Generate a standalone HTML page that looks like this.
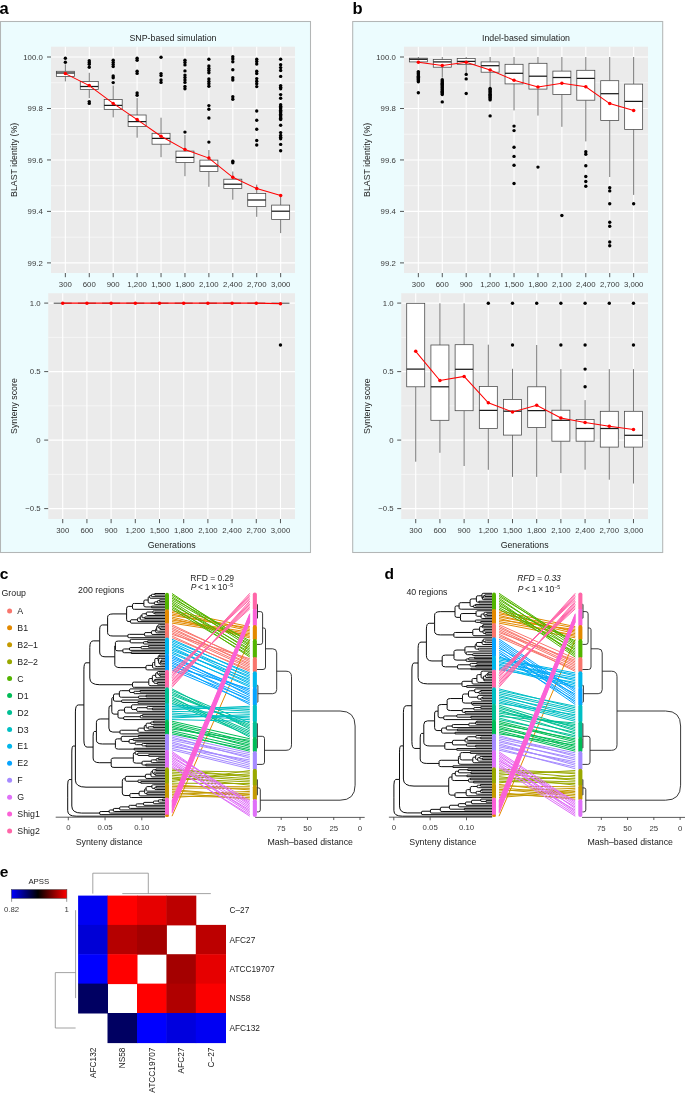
<!DOCTYPE html>
<html><head><meta charset="utf-8"><style>
html,body{margin:0;padding:0;background:#fff;}
body{width:685px;height:1094px;overflow:hidden;}
svg{display:block;will-change:transform;}
text{font-family:"Liberation Sans", sans-serif;}
</style></head><body>
<svg width="685" height="1094" viewBox="0 0 685 1094" font-family="Liberation Sans, sans-serif">
<rect width="685" height="1094" fill="#fff"/>
<rect x="0.5" y="21.5" width="310" height="531" fill="#ecfcfe" stroke="#b3b6b6" stroke-width="1.05"/>
<rect x="51" y="46.7" width="244" height="226.3" fill="#ebebeb"/>
<line x1="51" y1="82.74" x2="295" y2="82.74" stroke="#fff" stroke-width="0.55"/>
<line x1="51" y1="134.21" x2="295" y2="134.21" stroke="#fff" stroke-width="0.55"/>
<line x1="51" y1="185.69" x2="295" y2="185.69" stroke="#fff" stroke-width="0.55"/>
<line x1="51" y1="237.16" x2="295" y2="237.16" stroke="#fff" stroke-width="0.55"/>
<line x1="51" y1="57" x2="295" y2="57" stroke="#fff" stroke-width="1.1"/>
<line x1="51" y1="108.5" x2="295" y2="108.5" stroke="#fff" stroke-width="1.1"/>
<line x1="51" y1="159.95" x2="295" y2="159.95" stroke="#fff" stroke-width="1.1"/>
<line x1="51" y1="211.4" x2="295" y2="211.4" stroke="#fff" stroke-width="1.1"/>
<line x1="51" y1="262.9" x2="295" y2="262.9" stroke="#fff" stroke-width="1.1"/>
<line x1="65.35" y1="46.7" x2="65.35" y2="273" stroke="#fff" stroke-width="1.1"/>
<line x1="89.27" y1="46.7" x2="89.27" y2="273" stroke="#fff" stroke-width="1.1"/>
<line x1="113.2" y1="46.7" x2="113.2" y2="273" stroke="#fff" stroke-width="1.1"/>
<line x1="137.12" y1="46.7" x2="137.12" y2="273" stroke="#fff" stroke-width="1.1"/>
<line x1="161.04" y1="46.7" x2="161.04" y2="273" stroke="#fff" stroke-width="1.1"/>
<line x1="184.96" y1="46.7" x2="184.96" y2="273" stroke="#fff" stroke-width="1.1"/>
<line x1="208.88" y1="46.7" x2="208.88" y2="273" stroke="#fff" stroke-width="1.1"/>
<line x1="232.8" y1="46.7" x2="232.8" y2="273" stroke="#fff" stroke-width="1.1"/>
<line x1="256.73" y1="46.7" x2="256.73" y2="273" stroke="#fff" stroke-width="1.1"/>
<line x1="280.65" y1="46.7" x2="280.65" y2="273" stroke="#fff" stroke-width="1.1"/>
<line x1="65.35" y1="64.3" x2="65.35" y2="71.3" stroke="#555" stroke-width="0.8"/>
<line x1="65.35" y1="76.5" x2="65.35" y2="81.4" stroke="#555" stroke-width="0.8"/>
<rect x="56.35" y="71.3" width="18" height="5.2" fill="#fff" stroke="#444" stroke-width="0.75"/>
<line x1="56.35" y1="73" x2="74.35" y2="73" stroke="#1a1a1a" stroke-width="1.25"/>
<circle cx="65.35" cy="58.2" r="1.7" fill="#000"/>
<circle cx="65.35" cy="62.3" r="1.7" fill="#000"/>
<line x1="89.27" y1="72.8" x2="89.27" y2="81.4" stroke="#555" stroke-width="0.8"/>
<line x1="89.27" y1="89.5" x2="89.27" y2="98.1" stroke="#555" stroke-width="0.8"/>
<rect x="80.27" y="81.4" width="18" height="8.1" fill="#fff" stroke="#444" stroke-width="0.75"/>
<line x1="80.27" y1="86.5" x2="98.27" y2="86.5" stroke="#1a1a1a" stroke-width="1.25"/>
<circle cx="89.27" cy="60.8" r="1.7" fill="#000"/>
<circle cx="89.27" cy="62.5" r="1.7" fill="#000"/>
<circle cx="89.27" cy="64.3" r="1.7" fill="#000"/>
<circle cx="89.27" cy="67.2" r="1.7" fill="#000"/>
<circle cx="89.27" cy="101.6" r="1.7" fill="#000"/>
<circle cx="89.27" cy="103.4" r="1.7" fill="#000"/>
<line x1="113.2" y1="85.6" x2="113.2" y2="99.5" stroke="#555" stroke-width="0.8"/>
<line x1="113.2" y1="109.5" x2="113.2" y2="117.4" stroke="#555" stroke-width="0.8"/>
<rect x="104.2" y="99.5" width="18" height="10" fill="#fff" stroke="#444" stroke-width="0.75"/>
<line x1="104.2" y1="105.4" x2="122.2" y2="105.4" stroke="#1a1a1a" stroke-width="1.25"/>
<circle cx="113.2" cy="60.2" r="1.7" fill="#000"/>
<circle cx="113.2" cy="62.5" r="1.7" fill="#000"/>
<circle cx="113.2" cy="64.6" r="1.7" fill="#000"/>
<circle cx="113.2" cy="66.6" r="1.7" fill="#000"/>
<circle cx="113.2" cy="76" r="1.7" fill="#000"/>
<circle cx="113.2" cy="77.7" r="1.7" fill="#000"/>
<circle cx="113.2" cy="82.6" r="1.7" fill="#000"/>
<line x1="137.12" y1="98.1" x2="137.12" y2="115" stroke="#555" stroke-width="0.8"/>
<line x1="137.12" y1="126.6" x2="137.12" y2="137.7" stroke="#555" stroke-width="0.8"/>
<rect x="128.12" y="115" width="18" height="11.6" fill="#fff" stroke="#444" stroke-width="0.75"/>
<line x1="128.12" y1="121.6" x2="146.12" y2="121.6" stroke="#1a1a1a" stroke-width="1.25"/>
<circle cx="137.12" cy="58.2" r="1.7" fill="#000"/>
<circle cx="137.12" cy="60.2" r="1.7" fill="#000"/>
<circle cx="137.12" cy="71.3" r="1.7" fill="#000"/>
<circle cx="137.12" cy="73.4" r="1.7" fill="#000"/>
<circle cx="137.12" cy="92.9" r="1.7" fill="#000"/>
<circle cx="137.12" cy="95.2" r="1.7" fill="#000"/>
<line x1="161.04" y1="117.7" x2="161.04" y2="133.3" stroke="#555" stroke-width="0.8"/>
<line x1="161.04" y1="144.2" x2="161.04" y2="157.2" stroke="#555" stroke-width="0.8"/>
<rect x="152.04" y="133.3" width="18" height="10.9" fill="#fff" stroke="#444" stroke-width="0.75"/>
<line x1="152.04" y1="138.4" x2="170.04" y2="138.4" stroke="#1a1a1a" stroke-width="1.25"/>
<circle cx="161.04" cy="57.3" r="1.7" fill="#000"/>
<circle cx="161.04" cy="73.6" r="1.7" fill="#000"/>
<circle cx="161.04" cy="75.6" r="1.7" fill="#000"/>
<circle cx="161.04" cy="80" r="1.7" fill="#000"/>
<circle cx="161.04" cy="82.4" r="1.7" fill="#000"/>
<line x1="184.96" y1="135" x2="184.96" y2="151.1" stroke="#555" stroke-width="0.8"/>
<line x1="184.96" y1="162.5" x2="184.96" y2="176.2" stroke="#555" stroke-width="0.8"/>
<rect x="175.96" y="151.1" width="18" height="11.4" fill="#fff" stroke="#444" stroke-width="0.75"/>
<line x1="175.96" y1="157.4" x2="193.96" y2="157.4" stroke="#1a1a1a" stroke-width="1.25"/>
<circle cx="184.96" cy="60.2" r="1.7" fill="#000"/>
<circle cx="184.96" cy="62.5" r="1.7" fill="#000"/>
<circle cx="184.96" cy="64.9" r="1.7" fill="#000"/>
<circle cx="184.96" cy="70.9" r="1.7" fill="#000"/>
<circle cx="184.96" cy="75.1" r="1.7" fill="#000"/>
<circle cx="184.96" cy="77.5" r="1.7" fill="#000"/>
<circle cx="184.96" cy="80" r="1.7" fill="#000"/>
<circle cx="184.96" cy="82.4" r="1.7" fill="#000"/>
<circle cx="184.96" cy="86.5" r="1.7" fill="#000"/>
<circle cx="184.96" cy="88.8" r="1.7" fill="#000"/>
<circle cx="184.96" cy="132.1" r="1.7" fill="#000"/>
<line x1="208.88" y1="150" x2="208.88" y2="160.1" stroke="#555" stroke-width="0.8"/>
<line x1="208.88" y1="171.5" x2="208.88" y2="186.8" stroke="#555" stroke-width="0.8"/>
<rect x="199.88" y="160.1" width="18" height="11.4" fill="#fff" stroke="#444" stroke-width="0.75"/>
<line x1="199.88" y1="166.1" x2="217.88" y2="166.1" stroke="#1a1a1a" stroke-width="1.25"/>
<circle cx="208.88" cy="59.3" r="1.7" fill="#000"/>
<circle cx="208.88" cy="65.9" r="1.7" fill="#000"/>
<circle cx="208.88" cy="68.4" r="1.7" fill="#000"/>
<circle cx="208.88" cy="70.5" r="1.7" fill="#000"/>
<circle cx="208.88" cy="72.7" r="1.7" fill="#000"/>
<circle cx="208.88" cy="79" r="1.7" fill="#000"/>
<circle cx="208.88" cy="81.5" r="1.7" fill="#000"/>
<circle cx="208.88" cy="83.7" r="1.7" fill="#000"/>
<circle cx="208.88" cy="86.3" r="1.7" fill="#000"/>
<circle cx="208.88" cy="105.6" r="1.7" fill="#000"/>
<circle cx="208.88" cy="109.2" r="1.7" fill="#000"/>
<circle cx="208.88" cy="118" r="1.7" fill="#000"/>
<circle cx="208.88" cy="142.1" r="1.7" fill="#000"/>
<line x1="232.8" y1="171.5" x2="232.8" y2="179.2" stroke="#555" stroke-width="0.8"/>
<line x1="232.8" y1="188.6" x2="232.8" y2="199.7" stroke="#555" stroke-width="0.8"/>
<rect x="223.8" y="179.2" width="18" height="9.4" fill="#fff" stroke="#444" stroke-width="0.75"/>
<line x1="223.8" y1="184.2" x2="241.8" y2="184.2" stroke="#1a1a1a" stroke-width="1.25"/>
<circle cx="232.8" cy="56.7" r="1.7" fill="#000"/>
<circle cx="232.8" cy="58.9" r="1.7" fill="#000"/>
<circle cx="232.8" cy="61.8" r="1.7" fill="#000"/>
<circle cx="232.8" cy="69.8" r="1.7" fill="#000"/>
<circle cx="232.8" cy="77.8" r="1.7" fill="#000"/>
<circle cx="232.8" cy="80" r="1.7" fill="#000"/>
<circle cx="232.8" cy="96.8" r="1.7" fill="#000"/>
<circle cx="232.8" cy="99.3" r="1.7" fill="#000"/>
<circle cx="232.8" cy="161.3" r="1.7" fill="#000"/>
<circle cx="232.8" cy="162.7" r="1.7" fill="#000"/>
<line x1="256.73" y1="184.6" x2="256.73" y2="193.4" stroke="#555" stroke-width="0.8"/>
<line x1="256.73" y1="206.5" x2="256.73" y2="216.8" stroke="#555" stroke-width="0.8"/>
<rect x="247.73" y="193.4" width="18" height="13.1" fill="#fff" stroke="#444" stroke-width="0.75"/>
<line x1="247.73" y1="200" x2="265.73" y2="200" stroke="#1a1a1a" stroke-width="1.25"/>
<circle cx="256.73" cy="59.3" r="1.7" fill="#000"/>
<circle cx="256.73" cy="61.5" r="1.7" fill="#000"/>
<circle cx="256.73" cy="64" r="1.7" fill="#000"/>
<circle cx="256.73" cy="71.3" r="1.7" fill="#000"/>
<circle cx="256.73" cy="73.5" r="1.7" fill="#000"/>
<circle cx="256.73" cy="78.6" r="1.7" fill="#000"/>
<circle cx="256.73" cy="81.2" r="1.7" fill="#000"/>
<circle cx="256.73" cy="83.7" r="1.7" fill="#000"/>
<circle cx="256.73" cy="86.6" r="1.7" fill="#000"/>
<circle cx="256.73" cy="111" r="1.7" fill="#000"/>
<circle cx="256.73" cy="120.2" r="1.7" fill="#000"/>
<circle cx="256.73" cy="129.2" r="1.7" fill="#000"/>
<circle cx="256.73" cy="140.5" r="1.7" fill="#000"/>
<circle cx="256.73" cy="145" r="1.7" fill="#000"/>
<line x1="280.65" y1="196.3" x2="280.65" y2="205.1" stroke="#555" stroke-width="0.8"/>
<line x1="280.65" y1="219.4" x2="280.65" y2="233.1" stroke="#555" stroke-width="0.8"/>
<rect x="271.65" y="205.1" width="18" height="14.3" fill="#fff" stroke="#444" stroke-width="0.75"/>
<line x1="271.65" y1="211.2" x2="289.65" y2="211.2" stroke="#1a1a1a" stroke-width="1.25"/>
<circle cx="280.65" cy="59.3" r="1.7" fill="#000"/>
<circle cx="280.65" cy="64.7" r="1.7" fill="#000"/>
<circle cx="280.65" cy="67.6" r="1.7" fill="#000"/>
<circle cx="280.65" cy="70.5" r="1.7" fill="#000"/>
<circle cx="280.65" cy="76.4" r="1.7" fill="#000"/>
<circle cx="280.65" cy="85.6" r="1.7" fill="#000"/>
<circle cx="280.65" cy="87.2" r="1.7" fill="#000"/>
<circle cx="280.65" cy="88.8" r="1.7" fill="#000"/>
<circle cx="280.65" cy="94.6" r="1.7" fill="#000"/>
<circle cx="280.65" cy="98.3" r="1.7" fill="#000"/>
<circle cx="280.65" cy="104.8" r="1.7" fill="#000"/>
<circle cx="280.65" cy="106.15" r="1.7" fill="#000"/>
<circle cx="280.65" cy="107.49" r="1.7" fill="#000"/>
<circle cx="280.65" cy="108.84" r="1.7" fill="#000"/>
<circle cx="280.65" cy="110.18" r="1.7" fill="#000"/>
<circle cx="280.65" cy="111.53" r="1.7" fill="#000"/>
<circle cx="280.65" cy="112.87" r="1.7" fill="#000"/>
<circle cx="280.65" cy="114.22" r="1.7" fill="#000"/>
<circle cx="280.65" cy="115.56" r="1.7" fill="#000"/>
<circle cx="280.65" cy="116.91" r="1.7" fill="#000"/>
<circle cx="280.65" cy="118.25" r="1.7" fill="#000"/>
<circle cx="280.65" cy="119.6" r="1.7" fill="#000"/>
<circle cx="280.65" cy="125.3" r="1.7" fill="#000"/>
<circle cx="280.65" cy="132.6" r="1.7" fill="#000"/>
<circle cx="280.65" cy="135.5" r="1.7" fill="#000"/>
<circle cx="280.65" cy="137.2" r="1.7" fill="#000"/>
<circle cx="280.65" cy="138.8" r="1.7" fill="#000"/>
<circle cx="280.65" cy="144.4" r="1.7" fill="#000"/>
<circle cx="280.65" cy="150.8" r="1.7" fill="#000"/>
<polyline points="65.35,73.6 89.27,85.6 113.2,103.4 137.12,119.6 161.04,136.2 184.96,149.6 208.88,158.1 232.8,177.3 256.73,188.6 280.65,195.6" fill="none" stroke="#ff0000" stroke-width="1.05"/>
<circle cx="65.35" cy="73.6" r="1.75" fill="#ff0000"/>
<circle cx="89.27" cy="85.6" r="1.75" fill="#ff0000"/>
<circle cx="113.2" cy="103.4" r="1.75" fill="#ff0000"/>
<circle cx="137.12" cy="119.6" r="1.75" fill="#ff0000"/>
<circle cx="161.04" cy="136.2" r="1.75" fill="#ff0000"/>
<circle cx="184.96" cy="149.6" r="1.75" fill="#ff0000"/>
<circle cx="208.88" cy="158.1" r="1.75" fill="#ff0000"/>
<circle cx="232.8" cy="177.3" r="1.75" fill="#ff0000"/>
<circle cx="256.73" cy="188.6" r="1.75" fill="#ff0000"/>
<circle cx="280.65" cy="195.6" r="1.75" fill="#ff0000"/>
<line x1="47" y1="57" x2="51" y2="57" stroke="#444444" stroke-width="0.9"/>
<text x="42.8" y="59.8" font-size="7.8" text-anchor="end" fill="#3a3a3a">100.0</text>
<line x1="47" y1="108.5" x2="51" y2="108.5" stroke="#444444" stroke-width="0.9"/>
<text x="42.8" y="111.3" font-size="7.8" text-anchor="end" fill="#3a3a3a">99.8</text>
<line x1="47" y1="159.95" x2="51" y2="159.95" stroke="#444444" stroke-width="0.9"/>
<text x="42.8" y="162.75" font-size="7.8" text-anchor="end" fill="#3a3a3a">99.6</text>
<line x1="47" y1="211.4" x2="51" y2="211.4" stroke="#444444" stroke-width="0.9"/>
<text x="42.8" y="214.2" font-size="7.8" text-anchor="end" fill="#3a3a3a">99.4</text>
<line x1="47" y1="262.9" x2="51" y2="262.9" stroke="#444444" stroke-width="0.9"/>
<text x="42.8" y="265.7" font-size="7.8" text-anchor="end" fill="#3a3a3a">99.2</text>
<line x1="65.35" y1="273" x2="65.35" y2="277.2" stroke="#444444" stroke-width="0.9"/>
<text x="65.35" y="287" font-size="7.8" text-anchor="middle" fill="#3a3a3a">300</text>
<line x1="89.27" y1="273" x2="89.27" y2="277.2" stroke="#444444" stroke-width="0.9"/>
<text x="89.27" y="287" font-size="7.8" text-anchor="middle" fill="#3a3a3a">600</text>
<line x1="113.2" y1="273" x2="113.2" y2="277.2" stroke="#444444" stroke-width="0.9"/>
<text x="113.2" y="287" font-size="7.8" text-anchor="middle" fill="#3a3a3a">900</text>
<line x1="137.12" y1="273" x2="137.12" y2="277.2" stroke="#444444" stroke-width="0.9"/>
<text x="137.12" y="287" font-size="7.8" text-anchor="middle" fill="#3a3a3a">1,200</text>
<line x1="161.04" y1="273" x2="161.04" y2="277.2" stroke="#444444" stroke-width="0.9"/>
<text x="161.04" y="287" font-size="7.8" text-anchor="middle" fill="#3a3a3a">1,500</text>
<line x1="184.96" y1="273" x2="184.96" y2="277.2" stroke="#444444" stroke-width="0.9"/>
<text x="184.96" y="287" font-size="7.8" text-anchor="middle" fill="#3a3a3a">1,800</text>
<line x1="208.88" y1="273" x2="208.88" y2="277.2" stroke="#444444" stroke-width="0.9"/>
<text x="208.88" y="287" font-size="7.8" text-anchor="middle" fill="#3a3a3a">2,100</text>
<line x1="232.8" y1="273" x2="232.8" y2="277.2" stroke="#444444" stroke-width="0.9"/>
<text x="232.8" y="287" font-size="7.8" text-anchor="middle" fill="#3a3a3a">2,400</text>
<line x1="256.73" y1="273" x2="256.73" y2="277.2" stroke="#444444" stroke-width="0.9"/>
<text x="256.73" y="287" font-size="7.8" text-anchor="middle" fill="#3a3a3a">2,700</text>
<line x1="280.65" y1="273" x2="280.65" y2="277.2" stroke="#444444" stroke-width="0.9"/>
<text x="280.65" y="287" font-size="7.8" text-anchor="middle" fill="#3a3a3a">3,000</text>
<text x="173" y="41.1" font-size="8.8" text-anchor="middle" fill="#222222">SNP-based simulation</text>
<text x="17.3" y="159.85" font-size="8.8" text-anchor="middle" fill="#222222" transform="rotate(-90 17.3 159.85)">BLAST identity (%)</text>
<rect x="48.2" y="293.2" width="246.8" height="225.8" fill="#ebebeb"/>
<line x1="48.2" y1="337.35" x2="295" y2="337.35" stroke="#fff" stroke-width="0.55"/>
<line x1="48.2" y1="405.85" x2="295" y2="405.85" stroke="#fff" stroke-width="0.55"/>
<line x1="48.2" y1="474.35" x2="295" y2="474.35" stroke="#fff" stroke-width="0.55"/>
<line x1="48.2" y1="303.1" x2="295" y2="303.1" stroke="#fff" stroke-width="1.1"/>
<line x1="48.2" y1="371.6" x2="295" y2="371.6" stroke="#fff" stroke-width="1.1"/>
<line x1="48.2" y1="440.1" x2="295" y2="440.1" stroke="#fff" stroke-width="1.1"/>
<line x1="48.2" y1="508.6" x2="295" y2="508.6" stroke="#fff" stroke-width="1.1"/>
<line x1="62.72" y1="293.2" x2="62.72" y2="519" stroke="#fff" stroke-width="1.1"/>
<line x1="86.91" y1="293.2" x2="86.91" y2="519" stroke="#fff" stroke-width="1.1"/>
<line x1="111.11" y1="293.2" x2="111.11" y2="519" stroke="#fff" stroke-width="1.1"/>
<line x1="135.31" y1="293.2" x2="135.31" y2="519" stroke="#fff" stroke-width="1.1"/>
<line x1="159.5" y1="293.2" x2="159.5" y2="519" stroke="#fff" stroke-width="1.1"/>
<line x1="183.7" y1="293.2" x2="183.7" y2="519" stroke="#fff" stroke-width="1.1"/>
<line x1="207.89" y1="293.2" x2="207.89" y2="519" stroke="#fff" stroke-width="1.1"/>
<line x1="232.09" y1="293.2" x2="232.09" y2="519" stroke="#fff" stroke-width="1.1"/>
<line x1="256.29" y1="293.2" x2="256.29" y2="519" stroke="#fff" stroke-width="1.1"/>
<line x1="280.48" y1="293.2" x2="280.48" y2="519" stroke="#fff" stroke-width="1.1"/>
<line x1="53.72" y1="303.2" x2="71.72" y2="303.2" stroke="#1a1a1a" stroke-width="0.8"/>
<line x1="77.91" y1="303.2" x2="95.91" y2="303.2" stroke="#1a1a1a" stroke-width="0.8"/>
<line x1="102.11" y1="303.2" x2="120.11" y2="303.2" stroke="#1a1a1a" stroke-width="0.8"/>
<line x1="126.31" y1="303.2" x2="144.31" y2="303.2" stroke="#1a1a1a" stroke-width="0.8"/>
<line x1="150.5" y1="303.2" x2="168.5" y2="303.2" stroke="#1a1a1a" stroke-width="0.8"/>
<line x1="174.7" y1="303.2" x2="192.7" y2="303.2" stroke="#1a1a1a" stroke-width="0.8"/>
<line x1="198.89" y1="303.2" x2="216.89" y2="303.2" stroke="#1a1a1a" stroke-width="0.8"/>
<line x1="223.09" y1="303.2" x2="241.09" y2="303.2" stroke="#1a1a1a" stroke-width="0.8"/>
<line x1="247.29" y1="303.2" x2="265.29" y2="303.2" stroke="#1a1a1a" stroke-width="0.8"/>
<line x1="271.48" y1="303.2" x2="289.48" y2="303.2" stroke="#1a1a1a" stroke-width="0.8"/>
<circle cx="280.48" cy="345" r="1.7" fill="#000"/>
<polyline points="62.72,303.2 86.91,303.2 111.11,303.2 135.31,303.2 159.5,303.2 183.7,303.2 207.89,303.2 232.09,303.2 256.29,303.2 280.48,303.7" fill="none" stroke="#ff0000" stroke-width="1.3"/>
<circle cx="62.72" cy="303.2" r="1.75" fill="#ff0000"/>
<circle cx="86.91" cy="303.2" r="1.75" fill="#ff0000"/>
<circle cx="111.11" cy="303.2" r="1.75" fill="#ff0000"/>
<circle cx="135.31" cy="303.2" r="1.75" fill="#ff0000"/>
<circle cx="159.5" cy="303.2" r="1.75" fill="#ff0000"/>
<circle cx="183.7" cy="303.2" r="1.75" fill="#ff0000"/>
<circle cx="207.89" cy="303.2" r="1.75" fill="#ff0000"/>
<circle cx="232.09" cy="303.2" r="1.75" fill="#ff0000"/>
<circle cx="256.29" cy="303.2" r="1.75" fill="#ff0000"/>
<circle cx="280.48" cy="303.7" r="1.75" fill="#ff0000"/>
<line x1="44.2" y1="303.1" x2="48.2" y2="303.1" stroke="#444444" stroke-width="0.9"/>
<text x="40.7" y="305.9" font-size="7.8" text-anchor="end" fill="#3a3a3a">1.0</text>
<line x1="44.2" y1="371.6" x2="48.2" y2="371.6" stroke="#444444" stroke-width="0.9"/>
<text x="40.7" y="374.4" font-size="7.8" text-anchor="end" fill="#3a3a3a">0.5</text>
<line x1="44.2" y1="440.1" x2="48.2" y2="440.1" stroke="#444444" stroke-width="0.9"/>
<text x="40.7" y="442.9" font-size="7.8" text-anchor="end" fill="#3a3a3a">0</text>
<line x1="44.2" y1="508.6" x2="48.2" y2="508.6" stroke="#444444" stroke-width="0.9"/>
<text x="40.7" y="511.4" font-size="7.8" text-anchor="end" fill="#3a3a3a">−0.5</text>
<line x1="62.72" y1="519" x2="62.72" y2="523.2" stroke="#444444" stroke-width="0.9"/>
<text x="62.72" y="533" font-size="7.8" text-anchor="middle" fill="#3a3a3a">300</text>
<line x1="86.91" y1="519" x2="86.91" y2="523.2" stroke="#444444" stroke-width="0.9"/>
<text x="86.91" y="533" font-size="7.8" text-anchor="middle" fill="#3a3a3a">600</text>
<line x1="111.11" y1="519" x2="111.11" y2="523.2" stroke="#444444" stroke-width="0.9"/>
<text x="111.11" y="533" font-size="7.8" text-anchor="middle" fill="#3a3a3a">900</text>
<line x1="135.31" y1="519" x2="135.31" y2="523.2" stroke="#444444" stroke-width="0.9"/>
<text x="135.31" y="533" font-size="7.8" text-anchor="middle" fill="#3a3a3a">1,200</text>
<line x1="159.5" y1="519" x2="159.5" y2="523.2" stroke="#444444" stroke-width="0.9"/>
<text x="159.5" y="533" font-size="7.8" text-anchor="middle" fill="#3a3a3a">1,500</text>
<line x1="183.7" y1="519" x2="183.7" y2="523.2" stroke="#444444" stroke-width="0.9"/>
<text x="183.7" y="533" font-size="7.8" text-anchor="middle" fill="#3a3a3a">1,800</text>
<line x1="207.89" y1="519" x2="207.89" y2="523.2" stroke="#444444" stroke-width="0.9"/>
<text x="207.89" y="533" font-size="7.8" text-anchor="middle" fill="#3a3a3a">2,100</text>
<line x1="232.09" y1="519" x2="232.09" y2="523.2" stroke="#444444" stroke-width="0.9"/>
<text x="232.09" y="533" font-size="7.8" text-anchor="middle" fill="#3a3a3a">2,400</text>
<line x1="256.29" y1="519" x2="256.29" y2="523.2" stroke="#444444" stroke-width="0.9"/>
<text x="256.29" y="533" font-size="7.8" text-anchor="middle" fill="#3a3a3a">2,700</text>
<line x1="280.48" y1="519" x2="280.48" y2="523.2" stroke="#444444" stroke-width="0.9"/>
<text x="280.48" y="533" font-size="7.8" text-anchor="middle" fill="#3a3a3a">3,000</text>
<text x="171.6" y="547.9" font-size="8.8" text-anchor="middle" fill="#222222">Generations</text>
<text x="17.3" y="406.1" font-size="8.8" text-anchor="middle" fill="#222222" transform="rotate(-90 17.3 406.1)">Synteny score</text>
<rect x="352.7" y="21.5" width="310" height="531" fill="#ecfcfe" stroke="#b3b6b6" stroke-width="1.05"/>
<rect x="404" y="46.7" width="244" height="226.3" fill="#ebebeb"/>
<line x1="404" y1="82.74" x2="648" y2="82.74" stroke="#fff" stroke-width="0.55"/>
<line x1="404" y1="134.21" x2="648" y2="134.21" stroke="#fff" stroke-width="0.55"/>
<line x1="404" y1="185.69" x2="648" y2="185.69" stroke="#fff" stroke-width="0.55"/>
<line x1="404" y1="237.16" x2="648" y2="237.16" stroke="#fff" stroke-width="0.55"/>
<line x1="404" y1="57" x2="648" y2="57" stroke="#fff" stroke-width="1.1"/>
<line x1="404" y1="108.5" x2="648" y2="108.5" stroke="#fff" stroke-width="1.1"/>
<line x1="404" y1="159.95" x2="648" y2="159.95" stroke="#fff" stroke-width="1.1"/>
<line x1="404" y1="211.4" x2="648" y2="211.4" stroke="#fff" stroke-width="1.1"/>
<line x1="404" y1="262.9" x2="648" y2="262.9" stroke="#fff" stroke-width="1.1"/>
<line x1="418.35" y1="46.7" x2="418.35" y2="273" stroke="#fff" stroke-width="1.1"/>
<line x1="442.27" y1="46.7" x2="442.27" y2="273" stroke="#fff" stroke-width="1.1"/>
<line x1="466.2" y1="46.7" x2="466.2" y2="273" stroke="#fff" stroke-width="1.1"/>
<line x1="490.12" y1="46.7" x2="490.12" y2="273" stroke="#fff" stroke-width="1.1"/>
<line x1="514.04" y1="46.7" x2="514.04" y2="273" stroke="#fff" stroke-width="1.1"/>
<line x1="537.96" y1="46.7" x2="537.96" y2="273" stroke="#fff" stroke-width="1.1"/>
<line x1="561.88" y1="46.7" x2="561.88" y2="273" stroke="#fff" stroke-width="1.1"/>
<line x1="585.8" y1="46.7" x2="585.8" y2="273" stroke="#fff" stroke-width="1.1"/>
<line x1="609.73" y1="46.7" x2="609.73" y2="273" stroke="#fff" stroke-width="1.1"/>
<line x1="633.65" y1="46.7" x2="633.65" y2="273" stroke="#fff" stroke-width="1.1"/>
<line x1="418.35" y1="57" x2="418.35" y2="58.2" stroke="#555" stroke-width="0.8"/>
<line x1="418.35" y1="61.9" x2="418.35" y2="62" stroke="#555" stroke-width="0.8"/>
<rect x="409.35" y="58.2" width="18" height="3.7" fill="#fff" stroke="#444" stroke-width="0.75"/>
<line x1="409.35" y1="59.3" x2="427.35" y2="59.3" stroke="#1a1a1a" stroke-width="1.25"/>
<circle cx="418.35" cy="71.6" r="1.7" fill="#000"/>
<circle cx="418.35" cy="72.73" r="1.7" fill="#000"/>
<circle cx="418.35" cy="73.87" r="1.7" fill="#000"/>
<circle cx="418.35" cy="75" r="1.7" fill="#000"/>
<circle cx="418.35" cy="76.13" r="1.7" fill="#000"/>
<circle cx="418.35" cy="77.27" r="1.7" fill="#000"/>
<circle cx="418.35" cy="78.4" r="1.7" fill="#000"/>
<circle cx="418.35" cy="79.53" r="1.7" fill="#000"/>
<circle cx="418.35" cy="80.67" r="1.7" fill="#000"/>
<circle cx="418.35" cy="81.8" r="1.7" fill="#000"/>
<circle cx="418.35" cy="92.7" r="1.7" fill="#000"/>
<line x1="442.27" y1="57" x2="442.27" y2="59.4" stroke="#555" stroke-width="0.8"/>
<line x1="442.27" y1="67.2" x2="442.27" y2="77.7" stroke="#555" stroke-width="0.8"/>
<rect x="433.27" y="59.4" width="18" height="7.8" fill="#fff" stroke="#444" stroke-width="0.75"/>
<line x1="433.27" y1="61.9" x2="451.27" y2="61.9" stroke="#1a1a1a" stroke-width="1.25"/>
<circle cx="442.27" cy="79.8" r="1.7" fill="#000"/>
<circle cx="442.27" cy="80.94" r="1.7" fill="#000"/>
<circle cx="442.27" cy="82.08" r="1.7" fill="#000"/>
<circle cx="442.27" cy="83.22" r="1.7" fill="#000"/>
<circle cx="442.27" cy="84.35" r="1.7" fill="#000"/>
<circle cx="442.27" cy="85.49" r="1.7" fill="#000"/>
<circle cx="442.27" cy="86.63" r="1.7" fill="#000"/>
<circle cx="442.27" cy="87.77" r="1.7" fill="#000"/>
<circle cx="442.27" cy="88.91" r="1.7" fill="#000"/>
<circle cx="442.27" cy="90.05" r="1.7" fill="#000"/>
<circle cx="442.27" cy="91.18" r="1.7" fill="#000"/>
<circle cx="442.27" cy="92.32" r="1.7" fill="#000"/>
<circle cx="442.27" cy="93.46" r="1.7" fill="#000"/>
<circle cx="442.27" cy="94.6" r="1.7" fill="#000"/>
<circle cx="442.27" cy="101.9" r="1.7" fill="#000"/>
<line x1="466.2" y1="57" x2="466.2" y2="58.4" stroke="#555" stroke-width="0.8"/>
<line x1="466.2" y1="64.3" x2="466.2" y2="73" stroke="#555" stroke-width="0.8"/>
<rect x="457.2" y="58.4" width="18" height="5.9" fill="#fff" stroke="#444" stroke-width="0.75"/>
<line x1="457.2" y1="61.4" x2="475.2" y2="61.4" stroke="#1a1a1a" stroke-width="1.25"/>
<circle cx="466.2" cy="74.4" r="1.7" fill="#000"/>
<circle cx="466.2" cy="78.9" r="1.7" fill="#000"/>
<circle cx="466.2" cy="93.5" r="1.7" fill="#000"/>
<line x1="490.12" y1="57" x2="490.12" y2="61.9" stroke="#555" stroke-width="0.8"/>
<line x1="490.12" y1="72.2" x2="490.12" y2="87.6" stroke="#555" stroke-width="0.8"/>
<rect x="481.12" y="61.9" width="18" height="10.3" fill="#fff" stroke="#444" stroke-width="0.75"/>
<line x1="481.12" y1="65.7" x2="499.12" y2="65.7" stroke="#1a1a1a" stroke-width="1.25"/>
<circle cx="490.12" cy="88.4" r="1.7" fill="#000"/>
<circle cx="490.12" cy="89.55" r="1.7" fill="#000"/>
<circle cx="490.12" cy="90.7" r="1.7" fill="#000"/>
<circle cx="490.12" cy="91.85" r="1.7" fill="#000"/>
<circle cx="490.12" cy="93" r="1.7" fill="#000"/>
<circle cx="490.12" cy="94.15" r="1.7" fill="#000"/>
<circle cx="490.12" cy="95.3" r="1.7" fill="#000"/>
<circle cx="490.12" cy="96.45" r="1.7" fill="#000"/>
<circle cx="490.12" cy="97.6" r="1.7" fill="#000"/>
<circle cx="490.12" cy="98.75" r="1.7" fill="#000"/>
<circle cx="490.12" cy="99.9" r="1.7" fill="#000"/>
<circle cx="490.12" cy="115.9" r="1.7" fill="#000"/>
<line x1="514.04" y1="57" x2="514.04" y2="64.3" stroke="#555" stroke-width="0.8"/>
<line x1="514.04" y1="83.9" x2="514.04" y2="110.4" stroke="#555" stroke-width="0.8"/>
<rect x="505.04" y="64.3" width="18" height="19.6" fill="#fff" stroke="#444" stroke-width="0.75"/>
<line x1="505.04" y1="73.3" x2="523.04" y2="73.3" stroke="#1a1a1a" stroke-width="1.25"/>
<circle cx="514.04" cy="126.1" r="1.7" fill="#000"/>
<circle cx="514.04" cy="130.6" r="1.7" fill="#000"/>
<circle cx="514.04" cy="147.2" r="1.7" fill="#000"/>
<circle cx="514.04" cy="156.4" r="1.7" fill="#000"/>
<circle cx="514.04" cy="165.3" r="1.7" fill="#000"/>
<circle cx="514.04" cy="183.5" r="1.7" fill="#000"/>
<line x1="537.96" y1="57" x2="537.96" y2="63.3" stroke="#555" stroke-width="0.8"/>
<line x1="537.96" y1="89.1" x2="537.96" y2="115.6" stroke="#555" stroke-width="0.8"/>
<rect x="528.96" y="63.3" width="18" height="25.8" fill="#fff" stroke="#444" stroke-width="0.75"/>
<line x1="528.96" y1="76.2" x2="546.96" y2="76.2" stroke="#1a1a1a" stroke-width="1.25"/>
<circle cx="537.96" cy="167.1" r="1.7" fill="#000"/>
<line x1="561.88" y1="57" x2="561.88" y2="71.1" stroke="#555" stroke-width="0.8"/>
<line x1="561.88" y1="94.4" x2="561.88" y2="126.8" stroke="#555" stroke-width="0.8"/>
<rect x="552.88" y="71.1" width="18" height="23.3" fill="#fff" stroke="#444" stroke-width="0.75"/>
<line x1="552.88" y1="77.5" x2="570.88" y2="77.5" stroke="#1a1a1a" stroke-width="1.25"/>
<circle cx="561.88" cy="215.5" r="1.7" fill="#000"/>
<line x1="585.8" y1="57" x2="585.8" y2="70.3" stroke="#555" stroke-width="0.8"/>
<line x1="585.8" y1="100.2" x2="585.8" y2="141.4" stroke="#555" stroke-width="0.8"/>
<rect x="576.8" y="70.3" width="18" height="29.9" fill="#fff" stroke="#444" stroke-width="0.75"/>
<line x1="576.8" y1="78.4" x2="594.8" y2="78.4" stroke="#1a1a1a" stroke-width="1.25"/>
<circle cx="585.8" cy="151.7" r="1.7" fill="#000"/>
<circle cx="585.8" cy="154.2" r="1.7" fill="#000"/>
<circle cx="585.8" cy="165.8" r="1.7" fill="#000"/>
<circle cx="585.8" cy="176.5" r="1.7" fill="#000"/>
<circle cx="585.8" cy="181.5" r="1.7" fill="#000"/>
<circle cx="585.8" cy="186.2" r="1.7" fill="#000"/>
<line x1="609.73" y1="57" x2="609.73" y2="80.7" stroke="#555" stroke-width="0.8"/>
<line x1="609.73" y1="120.4" x2="609.73" y2="177" stroke="#555" stroke-width="0.8"/>
<rect x="600.73" y="80.7" width="18" height="39.7" fill="#fff" stroke="#444" stroke-width="0.75"/>
<line x1="600.73" y1="93.7" x2="618.73" y2="93.7" stroke="#1a1a1a" stroke-width="1.25"/>
<circle cx="609.73" cy="187.7" r="1.7" fill="#000"/>
<circle cx="609.73" cy="190.9" r="1.7" fill="#000"/>
<circle cx="609.73" cy="203.8" r="1.7" fill="#000"/>
<circle cx="609.73" cy="222.2" r="1.7" fill="#000"/>
<circle cx="609.73" cy="226.2" r="1.7" fill="#000"/>
<circle cx="609.73" cy="242" r="1.7" fill="#000"/>
<circle cx="609.73" cy="245.8" r="1.7" fill="#000"/>
<line x1="633.65" y1="57" x2="633.65" y2="84.1" stroke="#555" stroke-width="0.8"/>
<line x1="633.65" y1="129.4" x2="633.65" y2="194.9" stroke="#555" stroke-width="0.8"/>
<rect x="624.65" y="84.1" width="18" height="45.3" fill="#fff" stroke="#444" stroke-width="0.75"/>
<line x1="624.65" y1="101.4" x2="642.65" y2="101.4" stroke="#1a1a1a" stroke-width="1.25"/>
<circle cx="633.65" cy="203.8" r="1.7" fill="#000"/>
<polyline points="418.35,62.3 442.27,65.4 466.2,62.2 490.12,69.9 514.04,80.3 537.96,87 561.88,83.3 585.8,86.8 609.73,103.6 633.65,110.5" fill="none" stroke="#ff0000" stroke-width="1.05"/>
<circle cx="418.35" cy="62.3" r="1.75" fill="#ff0000"/>
<circle cx="442.27" cy="65.4" r="1.75" fill="#ff0000"/>
<circle cx="466.2" cy="62.2" r="1.75" fill="#ff0000"/>
<circle cx="490.12" cy="69.9" r="1.75" fill="#ff0000"/>
<circle cx="514.04" cy="80.3" r="1.75" fill="#ff0000"/>
<circle cx="537.96" cy="87" r="1.75" fill="#ff0000"/>
<circle cx="561.88" cy="83.3" r="1.75" fill="#ff0000"/>
<circle cx="585.8" cy="86.8" r="1.75" fill="#ff0000"/>
<circle cx="609.73" cy="103.6" r="1.75" fill="#ff0000"/>
<circle cx="633.65" cy="110.5" r="1.75" fill="#ff0000"/>
<line x1="400" y1="57" x2="404" y2="57" stroke="#444444" stroke-width="0.9"/>
<text x="395.8" y="59.8" font-size="7.8" text-anchor="end" fill="#3a3a3a">100.0</text>
<line x1="400" y1="108.5" x2="404" y2="108.5" stroke="#444444" stroke-width="0.9"/>
<text x="395.8" y="111.3" font-size="7.8" text-anchor="end" fill="#3a3a3a">99.8</text>
<line x1="400" y1="159.95" x2="404" y2="159.95" stroke="#444444" stroke-width="0.9"/>
<text x="395.8" y="162.75" font-size="7.8" text-anchor="end" fill="#3a3a3a">99.6</text>
<line x1="400" y1="211.4" x2="404" y2="211.4" stroke="#444444" stroke-width="0.9"/>
<text x="395.8" y="214.2" font-size="7.8" text-anchor="end" fill="#3a3a3a">99.4</text>
<line x1="400" y1="262.9" x2="404" y2="262.9" stroke="#444444" stroke-width="0.9"/>
<text x="395.8" y="265.7" font-size="7.8" text-anchor="end" fill="#3a3a3a">99.2</text>
<line x1="418.35" y1="273" x2="418.35" y2="277.2" stroke="#444444" stroke-width="0.9"/>
<text x="418.35" y="287" font-size="7.8" text-anchor="middle" fill="#3a3a3a">300</text>
<line x1="442.27" y1="273" x2="442.27" y2="277.2" stroke="#444444" stroke-width="0.9"/>
<text x="442.27" y="287" font-size="7.8" text-anchor="middle" fill="#3a3a3a">600</text>
<line x1="466.2" y1="273" x2="466.2" y2="277.2" stroke="#444444" stroke-width="0.9"/>
<text x="466.2" y="287" font-size="7.8" text-anchor="middle" fill="#3a3a3a">900</text>
<line x1="490.12" y1="273" x2="490.12" y2="277.2" stroke="#444444" stroke-width="0.9"/>
<text x="490.12" y="287" font-size="7.8" text-anchor="middle" fill="#3a3a3a">1,200</text>
<line x1="514.04" y1="273" x2="514.04" y2="277.2" stroke="#444444" stroke-width="0.9"/>
<text x="514.04" y="287" font-size="7.8" text-anchor="middle" fill="#3a3a3a">1,500</text>
<line x1="537.96" y1="273" x2="537.96" y2="277.2" stroke="#444444" stroke-width="0.9"/>
<text x="537.96" y="287" font-size="7.8" text-anchor="middle" fill="#3a3a3a">1,800</text>
<line x1="561.88" y1="273" x2="561.88" y2="277.2" stroke="#444444" stroke-width="0.9"/>
<text x="561.88" y="287" font-size="7.8" text-anchor="middle" fill="#3a3a3a">2,100</text>
<line x1="585.8" y1="273" x2="585.8" y2="277.2" stroke="#444444" stroke-width="0.9"/>
<text x="585.8" y="287" font-size="7.8" text-anchor="middle" fill="#3a3a3a">2,400</text>
<line x1="609.73" y1="273" x2="609.73" y2="277.2" stroke="#444444" stroke-width="0.9"/>
<text x="609.73" y="287" font-size="7.8" text-anchor="middle" fill="#3a3a3a">2,700</text>
<line x1="633.65" y1="273" x2="633.65" y2="277.2" stroke="#444444" stroke-width="0.9"/>
<text x="633.65" y="287" font-size="7.8" text-anchor="middle" fill="#3a3a3a">3,000</text>
<text x="526" y="41.1" font-size="8.8" text-anchor="middle" fill="#222222">Indel-based simulation</text>
<text x="370.3" y="159.85" font-size="8.8" text-anchor="middle" fill="#222222" transform="rotate(-90 370.3 159.85)">BLAST identity (%)</text>
<rect x="401.2" y="293.2" width="246.8" height="225.8" fill="#ebebeb"/>
<line x1="401.2" y1="337.35" x2="648" y2="337.35" stroke="#fff" stroke-width="0.55"/>
<line x1="401.2" y1="405.85" x2="648" y2="405.85" stroke="#fff" stroke-width="0.55"/>
<line x1="401.2" y1="474.35" x2="648" y2="474.35" stroke="#fff" stroke-width="0.55"/>
<line x1="401.2" y1="303.1" x2="648" y2="303.1" stroke="#fff" stroke-width="1.1"/>
<line x1="401.2" y1="371.6" x2="648" y2="371.6" stroke="#fff" stroke-width="1.1"/>
<line x1="401.2" y1="440.1" x2="648" y2="440.1" stroke="#fff" stroke-width="1.1"/>
<line x1="401.2" y1="508.6" x2="648" y2="508.6" stroke="#fff" stroke-width="1.1"/>
<line x1="415.72" y1="293.2" x2="415.72" y2="519" stroke="#fff" stroke-width="1.1"/>
<line x1="439.91" y1="293.2" x2="439.91" y2="519" stroke="#fff" stroke-width="1.1"/>
<line x1="464.11" y1="293.2" x2="464.11" y2="519" stroke="#fff" stroke-width="1.1"/>
<line x1="488.31" y1="293.2" x2="488.31" y2="519" stroke="#fff" stroke-width="1.1"/>
<line x1="512.5" y1="293.2" x2="512.5" y2="519" stroke="#fff" stroke-width="1.1"/>
<line x1="536.7" y1="293.2" x2="536.7" y2="519" stroke="#fff" stroke-width="1.1"/>
<line x1="560.89" y1="293.2" x2="560.89" y2="519" stroke="#fff" stroke-width="1.1"/>
<line x1="585.09" y1="293.2" x2="585.09" y2="519" stroke="#fff" stroke-width="1.1"/>
<line x1="609.29" y1="293.2" x2="609.29" y2="519" stroke="#fff" stroke-width="1.1"/>
<line x1="633.48" y1="293.2" x2="633.48" y2="519" stroke="#fff" stroke-width="1.1"/>
<line x1="415.72" y1="386.8" x2="415.72" y2="461.7" stroke="#555" stroke-width="0.8"/>
<rect x="406.72" y="303.3" width="18" height="83.5" fill="#fff" stroke="#444" stroke-width="0.75"/>
<line x1="406.72" y1="369.1" x2="424.72" y2="369.1" stroke="#1a1a1a" stroke-width="1.25"/>
<line x1="439.91" y1="303.3" x2="439.91" y2="345" stroke="#555" stroke-width="0.8"/>
<line x1="439.91" y1="420.3" x2="439.91" y2="452.8" stroke="#555" stroke-width="0.8"/>
<rect x="430.91" y="345" width="18" height="75.3" fill="#fff" stroke="#444" stroke-width="0.75"/>
<line x1="430.91" y1="386.8" x2="448.91" y2="386.8" stroke="#1a1a1a" stroke-width="1.25"/>
<line x1="464.11" y1="303.3" x2="464.11" y2="344.7" stroke="#555" stroke-width="0.8"/>
<line x1="464.11" y1="410.7" x2="464.11" y2="466" stroke="#555" stroke-width="0.8"/>
<rect x="455.11" y="344.7" width="18" height="66" fill="#fff" stroke="#444" stroke-width="0.75"/>
<line x1="455.11" y1="369.3" x2="473.11" y2="369.3" stroke="#1a1a1a" stroke-width="1.25"/>
<line x1="488.31" y1="344.7" x2="488.31" y2="386.4" stroke="#555" stroke-width="0.8"/>
<line x1="488.31" y1="428.5" x2="488.31" y2="469.8" stroke="#555" stroke-width="0.8"/>
<rect x="479.31" y="386.4" width="18" height="42.1" fill="#fff" stroke="#444" stroke-width="0.75"/>
<line x1="479.31" y1="410.4" x2="497.31" y2="410.4" stroke="#1a1a1a" stroke-width="1.25"/>
<circle cx="488.31" cy="303.3" r="1.7" fill="#000"/>
<line x1="512.5" y1="368.8" x2="512.5" y2="399.5" stroke="#555" stroke-width="0.8"/>
<line x1="512.5" y1="435.1" x2="512.5" y2="476.9" stroke="#555" stroke-width="0.8"/>
<rect x="503.5" y="399.5" width="18" height="35.6" fill="#fff" stroke="#444" stroke-width="0.75"/>
<line x1="503.5" y1="411.2" x2="521.5" y2="411.2" stroke="#1a1a1a" stroke-width="1.25"/>
<circle cx="512.5" cy="303.3" r="1.7" fill="#000"/>
<circle cx="512.5" cy="345" r="1.7" fill="#000"/>
<line x1="536.7" y1="345" x2="536.7" y2="386.8" stroke="#555" stroke-width="0.8"/>
<line x1="536.7" y1="427.5" x2="536.7" y2="476.9" stroke="#555" stroke-width="0.8"/>
<rect x="527.7" y="386.8" width="18" height="40.7" fill="#fff" stroke="#444" stroke-width="0.75"/>
<line x1="527.7" y1="410.6" x2="545.7" y2="410.6" stroke="#1a1a1a" stroke-width="1.25"/>
<circle cx="536.7" cy="303.3" r="1.7" fill="#000"/>
<line x1="560.89" y1="369.1" x2="560.89" y2="410.2" stroke="#555" stroke-width="0.8"/>
<line x1="560.89" y1="441.2" x2="560.89" y2="473.1" stroke="#555" stroke-width="0.8"/>
<rect x="551.89" y="410.2" width="18" height="31" fill="#fff" stroke="#444" stroke-width="0.75"/>
<line x1="551.89" y1="420.3" x2="569.89" y2="420.3" stroke="#1a1a1a" stroke-width="1.25"/>
<circle cx="560.89" cy="303.3" r="1.7" fill="#000"/>
<circle cx="560.89" cy="345" r="1.7" fill="#000"/>
<line x1="585.09" y1="400.1" x2="585.09" y2="419.5" stroke="#555" stroke-width="0.8"/>
<line x1="585.09" y1="441.2" x2="585.09" y2="469.7" stroke="#555" stroke-width="0.8"/>
<rect x="576.09" y="419.5" width="18" height="21.7" fill="#fff" stroke="#444" stroke-width="0.75"/>
<line x1="576.09" y1="428.5" x2="594.09" y2="428.5" stroke="#1a1a1a" stroke-width="1.25"/>
<circle cx="585.09" cy="303.3" r="1.7" fill="#000"/>
<circle cx="585.09" cy="345" r="1.7" fill="#000"/>
<circle cx="585.09" cy="369.1" r="1.7" fill="#000"/>
<circle cx="585.09" cy="386.8" r="1.7" fill="#000"/>
<line x1="609.29" y1="369.1" x2="609.29" y2="411.3" stroke="#555" stroke-width="0.8"/>
<line x1="609.29" y1="447.1" x2="609.29" y2="479.7" stroke="#555" stroke-width="0.8"/>
<rect x="600.29" y="411.3" width="18" height="35.8" fill="#fff" stroke="#444" stroke-width="0.75"/>
<line x1="600.29" y1="428.5" x2="618.29" y2="428.5" stroke="#1a1a1a" stroke-width="1.25"/>
<circle cx="609.29" cy="303.3" r="1.7" fill="#000"/>
<line x1="633.48" y1="369.1" x2="633.48" y2="411.3" stroke="#555" stroke-width="0.8"/>
<line x1="633.48" y1="447.1" x2="633.48" y2="483.5" stroke="#555" stroke-width="0.8"/>
<rect x="624.48" y="411.3" width="18" height="35.8" fill="#fff" stroke="#444" stroke-width="0.75"/>
<line x1="624.48" y1="435.3" x2="642.48" y2="435.3" stroke="#1a1a1a" stroke-width="1.25"/>
<circle cx="633.48" cy="303.3" r="1.7" fill="#000"/>
<circle cx="633.48" cy="345" r="1.7" fill="#000"/>
<polyline points="415.72,351.3 439.91,380.5 464.11,376.4 488.31,402.8 512.5,411.9 536.7,405.2 560.89,418 585.09,422.4 609.29,426.2 633.48,429.4" fill="none" stroke="#ff0000" stroke-width="1.05"/>
<circle cx="415.72" cy="351.3" r="1.75" fill="#ff0000"/>
<circle cx="439.91" cy="380.5" r="1.75" fill="#ff0000"/>
<circle cx="464.11" cy="376.4" r="1.75" fill="#ff0000"/>
<circle cx="488.31" cy="402.8" r="1.75" fill="#ff0000"/>
<circle cx="512.5" cy="411.9" r="1.75" fill="#ff0000"/>
<circle cx="536.7" cy="405.2" r="1.75" fill="#ff0000"/>
<circle cx="560.89" cy="418" r="1.75" fill="#ff0000"/>
<circle cx="585.09" cy="422.4" r="1.75" fill="#ff0000"/>
<circle cx="609.29" cy="426.2" r="1.75" fill="#ff0000"/>
<circle cx="633.48" cy="429.4" r="1.75" fill="#ff0000"/>
<line x1="397.2" y1="303.1" x2="401.2" y2="303.1" stroke="#444444" stroke-width="0.9"/>
<text x="393.7" y="305.9" font-size="7.8" text-anchor="end" fill="#3a3a3a">1.0</text>
<line x1="397.2" y1="371.6" x2="401.2" y2="371.6" stroke="#444444" stroke-width="0.9"/>
<text x="393.7" y="374.4" font-size="7.8" text-anchor="end" fill="#3a3a3a">0.5</text>
<line x1="397.2" y1="440.1" x2="401.2" y2="440.1" stroke="#444444" stroke-width="0.9"/>
<text x="393.7" y="442.9" font-size="7.8" text-anchor="end" fill="#3a3a3a">0</text>
<line x1="397.2" y1="508.6" x2="401.2" y2="508.6" stroke="#444444" stroke-width="0.9"/>
<text x="393.7" y="511.4" font-size="7.8" text-anchor="end" fill="#3a3a3a">−0.5</text>
<line x1="415.72" y1="519" x2="415.72" y2="523.2" stroke="#444444" stroke-width="0.9"/>
<text x="415.72" y="533" font-size="7.8" text-anchor="middle" fill="#3a3a3a">300</text>
<line x1="439.91" y1="519" x2="439.91" y2="523.2" stroke="#444444" stroke-width="0.9"/>
<text x="439.91" y="533" font-size="7.8" text-anchor="middle" fill="#3a3a3a">600</text>
<line x1="464.11" y1="519" x2="464.11" y2="523.2" stroke="#444444" stroke-width="0.9"/>
<text x="464.11" y="533" font-size="7.8" text-anchor="middle" fill="#3a3a3a">900</text>
<line x1="488.31" y1="519" x2="488.31" y2="523.2" stroke="#444444" stroke-width="0.9"/>
<text x="488.31" y="533" font-size="7.8" text-anchor="middle" fill="#3a3a3a">1,200</text>
<line x1="512.5" y1="519" x2="512.5" y2="523.2" stroke="#444444" stroke-width="0.9"/>
<text x="512.5" y="533" font-size="7.8" text-anchor="middle" fill="#3a3a3a">1,500</text>
<line x1="536.7" y1="519" x2="536.7" y2="523.2" stroke="#444444" stroke-width="0.9"/>
<text x="536.7" y="533" font-size="7.8" text-anchor="middle" fill="#3a3a3a">1,800</text>
<line x1="560.89" y1="519" x2="560.89" y2="523.2" stroke="#444444" stroke-width="0.9"/>
<text x="560.89" y="533" font-size="7.8" text-anchor="middle" fill="#3a3a3a">2,100</text>
<line x1="585.09" y1="519" x2="585.09" y2="523.2" stroke="#444444" stroke-width="0.9"/>
<text x="585.09" y="533" font-size="7.8" text-anchor="middle" fill="#3a3a3a">2,400</text>
<line x1="609.29" y1="519" x2="609.29" y2="523.2" stroke="#444444" stroke-width="0.9"/>
<text x="609.29" y="533" font-size="7.8" text-anchor="middle" fill="#3a3a3a">2,700</text>
<line x1="633.48" y1="519" x2="633.48" y2="523.2" stroke="#444444" stroke-width="0.9"/>
<text x="633.48" y="533" font-size="7.8" text-anchor="middle" fill="#3a3a3a">3,000</text>
<text x="524.6" y="547.9" font-size="8.8" text-anchor="middle" fill="#222222">Generations</text>
<text x="370.3" y="406.1" font-size="8.8" text-anchor="middle" fill="#222222" transform="rotate(-90 370.3 406.1)">Synteny score</text>
<text x="-0.5" y="13.6" font-size="16.5" text-anchor="start" fill="#000" font-weight="bold">a</text>
<text x="352.6" y="13.6" font-size="16.5" text-anchor="start" fill="#000" font-weight="bold">b</text>
<path d="M67.7 797.88V785.06Q67.7 779.56 69.14 779.56H71.8M71.8 779.56V753.05Q71.8 746.05 73.06 746.05H75.4M75.4 746.05V711.95Q75.4 704.95 78.38 704.95H83.9M83.9 704.95V669.8Q83.9 662.8 85.97 662.8H89.8M89.8 662.8V647.46Q89.8 640.88 93.27 640.88H99.7M99.7 640.88V629.74Q99.7 624.96 102.47 624.96H107.6M107.6 624.96V617.23Q107.6 613.92 113.04 613.92H126.6M126.6 613.92V608.65Q126.6 606.39 128.66 606.39H132.5M132.5 606.39V604.35Q132.5 603.48 134.52 603.48H143.88M143.88 603.48V601.05Q143.88 600.02 145.38 600.02H148.18M148.18 600.02V597.8Q148.18 596.85 148.71 596.85H149.68M149.68 596.85V595.88Q149.68 595.47 150.31 595.47H151.49M151.49 595.47V594.64Q151.49 594.28 152.65 594.28H154.81M154.81 594.28V593.49H165M154.81 594.28V595.07H165M151.49 595.47V596.3Q151.49 596.65 152.79 596.65H165M149.68 596.85V597.82Q149.68 598.24 151.06 598.24H165M148.18 600.02V602.23Q148.18 603.18 150.31 603.18H154.41M154.41 603.18V602.21Q154.41 601.8 155.49 601.8H157.48M157.48 601.8V600.97Q157.48 600.61 158.22 600.61H159.6M159.6 600.61V599.82H165M159.6 600.61V601.4H165M157.48 601.8V602.63Q157.48 602.98 158.78 602.98H165M154.41 603.18V604.15Q154.41 604.56 155.79 604.56H165M143.88 603.48V605.9Q143.88 606.94 146.13 606.94H151.64M151.64 606.94V606.15H165M151.64 606.94V607.73H165M132.5 606.39V608.43Q132.5 609.31 134.52 609.31H165M126.6 613.92V619.19Q126.6 621.44 127.97 621.44H130.5M130.5 621.44V620.26Q130.5 619.76 132.01 619.76H137.54M137.54 619.76V618.46Q137.54 617.91 138.5 617.91H140.28M140.28 617.91V616.4Q140.28 615.75 140.88 615.75H141.99M141.99 615.75V614.35Q141.99 613.74 143.52 613.74H146.36M146.36 613.74V612.53Q146.36 612.02 147.89 612.02H152.97M152.97 612.02V611.21Q152.97 610.87 154.25 610.87H165M152.97 612.02V612.82Q152.97 613.17 153.58 613.17H154.72M154.72 613.17V612.4H165M154.72 613.17V613.93H165M146.36 613.74V614.95Q146.36 615.47 147.89 615.47H165M141.99 615.75V617.16Q141.99 617.77 142.96 617.77H144.75M144.75 617.77V617H165M144.75 617.77V618.53H165M140.28 617.91V619.42Q140.28 620.07 141.98 620.07H165M137.54 619.76V621.05Q137.54 621.6 139.12 621.6H165M130.5 621.44V622.63Q130.5 623.13 132.01 623.13H165M107.6 624.96V632.7Q107.6 636.01 113.04 636.01H127.9M127.9 636.01V634.83Q127.9 634.33 129.41 634.33H144.54M144.54 634.33V633.11Q144.54 632.59 146.07 632.59H151.51M151.51 632.59V631.3Q151.51 630.74 152.99 630.74H155.74M155.74 630.74V629.29Q155.74 628.67 156.08 628.67H156.7M156.7 628.67V626.89Q156.7 626.13 157.16 626.13H158.01M158.01 626.13V625.14Q158.01 624.71 159.41 624.71H165M158.01 626.13V627.12Q158.01 627.55 158.43 627.55H159.19M159.19 627.55V626.7Q159.19 626.33 160.5 626.33H165M159.19 627.55V628.4Q159.19 628.77 159.61 628.77H160.38M160.38 628.77V627.96H165M160.38 628.77V629.58H165M156.7 628.67V630.44Q156.7 631.2 158.56 631.2H165M155.74 630.74V632.2Q155.74 632.82 157.42 632.82H165M151.51 632.59V633.89Q151.51 634.44 153.09 634.44H165M144.54 634.33V635.55Q144.54 636.07 146.07 636.07H165M127.9 636.01V637.19Q127.9 637.69 129.41 637.69H165M99.7 640.88V652.02Q99.7 656.79 104.98 656.79H114.8M114.8 656.79V645.96H115.4M115.4 645.96V642.53Q115.4 641.07 118.25 641.07H130.22M130.22 641.07V639.82Q130.22 639.29 131.77 639.29H165M130.22 641.07V642.31Q130.22 642.85 131.77 642.85H143.52M143.52 642.85V642.02Q143.52 641.66 144.82 641.66H147.61M147.61 641.66V640.87H165M147.61 641.66V642.45H165M143.52 642.85V643.67Q143.52 644.03 144.82 644.03H165M115.4 645.96V649.38Q115.4 650.84 118.03 650.84H122.9M122.9 650.84V649.53Q122.9 648.97 124.49 648.97H129.51M129.51 648.97V648Q129.51 647.59 130.89 647.59H141.18M141.18 647.59V646.76Q141.18 646.4 142.47 646.4H148.54M148.54 646.4V645.61H165M148.54 646.4V647.19H165M141.18 647.59V648.41Q141.18 648.77 142.47 648.77H165M129.51 648.97V649.94Q129.51 650.35 130.89 650.35H165M122.9 650.84V652.16Q122.9 652.72 124.49 652.72H131.26M131.26 652.72V651.93H165M131.26 652.72V653.51H165M114.8 656.79V664.38Q114.8 667.63 120.15 667.63H146M146 667.63V666.06Q146 665.38 147.74 665.38H152.57M152.57 665.38V663.38Q152.57 662.53 153.34 662.53H154.78M154.78 662.53V659.67Q154.78 658.45 155.96 658.45H158.16M158.16 658.45V656.69Q158.16 655.94 158.54 655.94H159.24M159.24 655.94V655.12H165M159.24 655.94V656.76H165M158.16 658.45V660.96H158.65M158.65 660.96V659.17Q158.65 658.4 160.53 658.4H165M158.65 660.96V662.76Q158.65 663.52 159.18 663.52H160.16M160.16 663.52V662.09H160.88M160.88 662.09V660.86H161.21M161.21 660.86V660.04H165M161.21 660.86V661.68H165M160.88 662.09V662.95Q160.88 663.32 162.19 663.32H165M160.16 663.52V664.53Q160.16 664.96 161.57 664.96H165M154.78 662.53V665.38Q154.78 666.6 157.29 666.6H165M152.57 665.38V667.38Q152.57 668.24 154.57 668.24H165M146 667.63V669.21Q146 669.88 147.74 669.88H165M89.8 662.8V678.15Q89.8 684.73 99.81 684.73H132.5M132.5 684.73V682.92Q132.5 682.14 134.38 682.14H148.81M148.81 682.14V679.63Q148.81 678.56 150.07 678.56H152.39M152.39 678.56V676.31Q152.39 675.35 153.55 675.35H155.69M155.69 675.35V673.62Q155.69 672.88 156.28 672.88H157.36M157.36 672.88V671.91Q157.36 671.49 158.75 671.49H165M157.36 672.88V673.84Q157.36 674.26 157.93 674.26H158.97M158.97 674.26V673.43Q158.97 673.07 160.27 673.07H165M158.97 674.26V675.09Q158.97 675.45 159.3 675.45H159.9M159.9 675.45V674.65H165M159.9 675.45V676.24H165M155.69 675.35V677.08Q155.69 677.82 157.53 677.82H165M152.39 678.56V680.81Q152.39 681.77 152.95 681.77H153.99M153.99 681.77V680.67Q153.99 680.19 154.31 680.19H154.9M154.9 680.19V679.4H165M154.9 680.19V680.98H165M153.99 681.77V682.88Q153.99 683.35 155.19 683.35H157.41M157.41 683.35V682.56H165M157.41 683.35V684.15H165M148.81 682.14V684.65Q148.81 685.73 151.12 685.73H165M132.5 684.73V686.53Q132.5 687.31 134.38 687.31H165M83.9 704.95V740.09Q83.9 747.09 87.12 747.09H93.1M93.1 747.09V736.15Q93.1 731.47 94.25 731.47H96.4M96.4 731.47V722.71Q96.4 718.96 100.78 718.96H108.9M108.9 718.96V709.79Q108.9 705.86 109.92 705.86H111.8M111.8 705.86V700.07Q111.8 697.59 112.39 697.59H113.5M113.5 697.59V695.05Q113.5 693.96 115.55 693.96H119.36M119.36 693.96V691.67Q119.36 690.68 121.54 690.68H129.54M129.54 690.68V689.43Q129.54 688.89 131.09 688.89H165M129.54 690.68V691.94Q129.54 692.47 131.09 692.47H134.01M134.01 692.47V691.64Q134.01 691.28 135.31 691.28H140.08M140.08 691.28V690.49H165M140.08 691.28V692.08H165M134.01 692.47V693.31Q134.01 693.66 135.31 693.66H165M119.36 693.96V696.26Q119.36 697.24 121.54 697.24H138.56M138.56 697.24V696.41Q138.56 696.05 139.86 696.05H146.14M146.14 696.05V695.25H165M146.14 696.05V696.85H165M138.56 697.24V698.08Q138.56 698.44 139.86 698.44H165M113.5 697.59V700.13Q113.5 701.22 115.82 701.22H121.6M121.6 701.22V700.38Q121.6 700.02 122.9 700.02H165M121.6 701.22V702.05Q121.6 702.41 122.9 702.41H137.91M137.91 702.41V701.62H165M137.91 702.41V703.21H165M111.8 705.86V711.64Q111.8 714.12 113.97 714.12H118M118 714.12V711.31Q118 710.1 120.3 710.1H124.56M124.56 710.1V708.05Q124.56 707.18 126.59 707.18H131.58M131.58 707.18V705.53Q131.58 704.82 133.37 704.82H165M131.58 707.18V708.83Q131.58 709.54 133.37 709.54H136.71M136.71 709.54V708.24Q136.71 707.69 138.28 707.69H147.04M147.04 707.69V706.83Q147.04 706.46 148.35 706.46H165M147.04 707.69V708.55Q147.04 708.92 148.35 708.92H152.45M152.45 708.92V708.1H165M152.45 708.92V709.74H165M136.71 709.54V710.83Q136.71 711.38 138.28 711.38H165M124.56 710.1V712.14Q124.56 713.02 126.59 713.02H165M118 714.12V716.94Q118 718.14 119.99 718.14H123.68M123.68 718.14V717.14Q123.68 716.71 125.08 716.71H140.37M140.37 716.71V715.85Q140.37 715.48 141.14 715.48H142.57M142.57 715.48V714.66H165M142.57 715.48V716.3H165M140.37 716.71V717.57Q140.37 717.94 141.68 717.94H165M123.68 718.14V719.15Q123.68 719.58 125.08 719.58H165M108.9 718.96V728.14Q108.9 732.07 112.78 732.07H120M120 732.07V730.78Q120 730.23 121.57 730.23H138.1M138.1 730.23V728.77Q138.1 728.15 139.77 728.15H144.3M144.3 728.15V726.34Q144.3 725.56 144.94 725.56H146.12M146.12 725.56V723.9Q146.12 723.18 147.78 723.18H150.85M150.85 723.18V722.35Q150.85 721.99 151.82 721.99H153.6M153.6 721.99V721.19H165M153.6 721.99V722.78H165M150.85 723.18V724.01Q150.85 724.37 152.15 724.37H165M146.12 725.56V727.23Q146.12 727.95 146.86 727.95H148.24M148.24 727.95V727.11Q148.24 726.76 149.54 726.76H153.3M153.3 726.76V725.96H165M153.3 726.76V727.55H165M148.24 727.95V728.78Q148.24 729.14 149.54 729.14H165M144.3 728.15V729.95Q144.3 730.73 146.19 730.73H165M138.1 730.23V731.69Q138.1 732.32 139.77 732.32H165M120 732.07V733.35Q120 733.91 121.57 733.91H165M96.4 731.47V740.22Q96.4 743.98 102.45 743.98H115.4M115.4 743.98V740.39Q115.4 738.85 117.45 738.85H121.26M121.26 738.85V737.06Q121.26 736.3 123.13 736.3H138.39M138.39 736.3V735.5H165M138.39 736.3V737.1H165M121.26 738.85V740.64Q121.26 741.4 123.13 741.4H129.18M129.18 741.4V740.07Q129.18 739.5 130.6 739.5H133.22M133.22 739.5V738.7H165M133.22 739.5V740.3H165M129.18 741.4V742.73Q129.18 743.3 130.78 743.3H135.15M135.15 743.3V742.32Q135.15 741.9 136.54 741.9H165M135.15 743.3V744.28Q135.15 744.7 136.54 744.7H142.07M142.07 744.7V743.86Q142.07 743.5 143.38 743.5H165M142.07 744.7V745.54Q142.07 745.9 143.38 745.9H146.07M146.07 745.9V745.1H165M146.07 745.9V746.7H165M115.4 743.98V747.56Q115.4 749.1 118.35 749.1H134.23M134.23 749.1V748.3H165M134.23 749.1V749.9H165M93.1 747.09V758.02Q93.1 762.71 99.44 762.71H111.2M111.2 762.71V759.42Q111.2 758.01 113.97 758.01H133.34M133.34 758.01V754.42Q133.34 752.89 133.99 752.89H135.18M135.18 752.89V751.91Q135.18 751.5 136.57 751.5H165M135.18 752.89V753.86Q135.18 754.28 136.05 754.28H137.66M137.66 754.28V753.44Q137.66 753.09 138.96 753.09H165M137.66 754.28V755.11Q137.66 755.47 138.96 755.47H148.71M148.71 755.47V754.68H165M148.71 755.47V756.27H165M133.34 758.01V761.59Q133.34 763.13 136.29 763.13H142.06M142.06 763.13V761.81Q142.06 761.24 143.65 761.24H151.26M151.26 761.24V760.27Q151.26 759.85 152.64 759.85H156.21M156.21 759.85V759.01Q156.21 758.65 156.97 758.65H158.38M158.38 758.65V757.86H165M158.38 758.65V759.45H165M156.21 759.85V760.68Q156.21 761.04 157.51 761.04H165M151.26 761.24V762.21Q151.26 762.63 152.64 762.63H165M142.06 763.13V764.45Q142.06 765.02 143.39 765.02H145.86M145.86 765.02V764.22H165M145.86 765.02V765.81H165M111.2 762.71V766Q111.2 767.4 113.97 767.4H165M75.4 746.05V780.16Q75.4 787.16 86 787.16H122.3M122.3 787.16V781.3Q122.3 778.79 123.35 778.79H125.3M125.3 778.79V777.08Q125.3 776.35 127.13 776.35H145.41M145.41 776.35V774.86Q145.41 774.22 147.11 774.22H150.99M150.99 774.22V772.36Q150.99 771.56 151.52 771.56H152.5M152.5 771.56V770.31Q152.5 769.78 153.67 769.78H155.85M155.85 769.78V768.99H165M155.85 769.78V770.57H165M152.5 771.56V772.8Q152.5 773.34 153.06 773.34H154.1M154.1 773.34V772.51Q154.1 772.15 155.4 772.15H165M154.1 773.34V774.16Q154.1 774.52 154.52 774.52H155.3M155.3 774.52V773.73H165M155.3 774.52V775.31H165M150.99 774.22V776.09Q150.99 776.89 152.91 776.89H165M145.41 776.35V777.83Q145.41 778.47 147.11 778.47H165M125.3 778.79V780.5Q125.3 781.24 127.13 781.24H138.03M138.03 781.24V780.41Q138.03 780.05 139.32 780.05H165M138.03 781.24V782.06Q138.03 782.42 139.02 782.42H140.87M140.87 782.42V781.63H165M140.87 782.42V783.21H165M122.3 787.16V793.02Q122.3 795.53 124.96 795.53H129.9M129.9 795.53V794.15Q129.9 793.56 131.53 793.56H139.13M139.13 793.56V791.91Q139.13 791.2 140.92 791.2H144.64M144.64 791.2V789.57Q144.64 788.87 145.18 788.87H146.17M146.17 788.87V787.27Q146.17 786.58 147.93 786.58H151.94M151.94 786.58V785.33Q151.94 784.79 153.49 784.79H165M151.94 786.58V787.83Q151.94 788.37 152.95 788.37H154.82M154.82 788.37V787.54Q154.82 787.18 155.29 787.18H156.16M156.16 787.18V786.38H165M156.16 787.18V787.97H165M154.82 788.37V789.2Q154.82 789.56 156.12 789.56H165M146.17 788.87V790.46Q146.17 791.15 147.93 791.15H165M144.64 791.2V792.83Q144.64 793.53 145.38 793.53H146.76M146.76 793.53V792.74H165M146.76 793.53V794.33H165M139.13 793.56V795.21Q139.13 795.92 140.92 795.92H165M129.9 795.53V796.91Q129.9 797.51 131.53 797.51H165M71.8 779.56V806.07Q71.8 813.07 81.56 813.07H99.7M99.7 813.07V811.98Q99.7 811.52 101.15 811.52H109.25M109.25 811.52V810.43Q109.25 809.97 110.68 809.97H113.33M113.33 809.97V808.88Q113.33 808.42 114.78 808.42H119.7M119.7 808.42V807.34Q119.7 806.87 121.15 806.87H128.95M128.95 806.87V805.8Q128.95 805.34 130.4 805.34H136.21M136.21 805.34V804.29Q136.21 803.84 137.65 803.84H143.55M143.55 803.84V802.82Q143.55 802.38 144.97 802.38H153.49M153.49 802.38V801.43Q153.49 801.02 154.86 801.02H158.4M158.4 801.02V800.2Q158.4 799.85 159.69 799.85H162.5M162.5 799.85V799.08H165M162.5 799.85V800.63H165M158.4 801.02V801.84Q158.4 802.19 159.69 802.19H165M153.49 802.38V803.33Q153.49 803.74 154.86 803.74H165M143.55 803.84V804.86Q143.55 805.3 144.97 805.3H165M136.21 805.34V806.4Q136.21 806.85 137.65 806.85H165M128.95 806.87V807.95Q128.95 808.4 130.4 808.4H165M119.7 808.42V809.5Q119.7 809.96 121.15 809.96H165M113.33 809.97V811.05Q113.33 811.51 114.78 811.51H165M109.25 811.52V812.6Q109.25 813.07 110.71 813.07H165M99.7 813.07V814.16Q99.7 814.62 101.15 814.62H165M67.7 797.88V810.7Q67.7 816.2 76.19 816.2H165" fill="none" stroke="#000" stroke-width="0.95"/>
<rect x="165" y="592.7" width="4" height="18.3" rx="2" fill="#53B400"/>
<rect x="165" y="609.2" width="4" height="15.6" rx="2" fill="#E38900"/>
<rect x="165" y="623" width="4" height="16.4" rx="2" fill="#F8766D"/>
<rect x="165" y="637.6" width="4" height="17.6" rx="2" fill="#00B6EB"/>
<rect x="165" y="653.4" width="4" height="18.2" rx="2" fill="#06A4FF"/>
<rect x="165" y="669.8" width="4" height="19.2" rx="2" fill="#FF66A8"/>
<rect x="165" y="687.2" width="4" height="17.7" rx="2" fill="#00C094"/>
<rect x="165" y="703.1" width="4" height="18.2" rx="2" fill="#00BFC4"/>
<rect x="165" y="719.5" width="4" height="16.1" rx="2" fill="#00BC56"/>
<rect x="165" y="733.8" width="4" height="17.8" rx="2" fill="#A58AFF"/>
<rect x="165" y="749.8" width="4" height="19.3" rx="2" fill="#DF70F8"/>
<rect x="165" y="767.3" width="4" height="17.6" rx="2" fill="#99A800"/>
<rect x="165" y="783.1" width="4" height="16.1" rx="2" fill="#C49A00"/>
<rect x="165" y="797.4" width="4" height="18.9" rx="2" fill="#FB61D7"/>
<rect x="165" y="814.5" width="4" height="2.5" rx="2" fill="#E38900"/>
<rect x="252.8" y="592.5" width="4.1" height="18" rx="2.05" fill="#FF66A8"/>
<rect x="252.8" y="608.7" width="4.1" height="18.1" rx="2.05" fill="#FB61D7"/>
<rect x="252.8" y="625" width="4.1" height="15.9" rx="2.05" fill="#E38900"/>
<rect x="252.8" y="639.1" width="4.1" height="19.7" rx="2.05" fill="#53B400"/>
<rect x="252.8" y="657" width="4.1" height="16.1" rx="2.05" fill="#F8766D"/>
<rect x="252.8" y="671.3" width="4.1" height="17.5" rx="2.05" fill="#00B6EB"/>
<rect x="252.8" y="687" width="4.1" height="19.3" rx="2.05" fill="#06A4FF"/>
<rect x="252.8" y="704.5" width="4.1" height="18.6" rx="2.05" fill="#00BFC4"/>
<rect x="252.8" y="721.3" width="4.1" height="17.6" rx="2.05" fill="#00C094"/>
<rect x="252.8" y="737.1" width="4.1" height="15.8" rx="2.05" fill="#00BC56"/>
<rect x="252.8" y="751.1" width="4.1" height="19.5" rx="2.05" fill="#A58AFF"/>
<rect x="252.8" y="768.8" width="4.1" height="18.1" rx="2.05" fill="#99A800"/>
<rect x="252.8" y="785.1" width="4.1" height="15.8" rx="2.05" fill="#C49A00"/>
<rect x="252.8" y="799.1" width="4.1" height="17.9" rx="2.05" fill="#DF70F8"/>
<path d="M172 624.71L249.8 661.87M172 626.33L249.8 660.28M172 627.96L249.8 665.05M172 629.58L249.8 663.46M172 631.2L249.8 666.64M172 632.82L249.8 668.23M172 634.44L249.8 658.69M172 636.07L249.8 671.41M172 637.69L249.8 669.82" stroke="#F8766D" stroke-width="1.0" fill="none"/>
<path d="M172 610.87L249.8 626.61M172 612.4L249.8 629.42M172 613.93L249.8 630.84M172 615.47L249.8 628.01M172 617L249.8 636.48M172 618.53L249.8 637.88M172 620.07L249.8 632.25M172 621.6L249.8 633.65M172 623.13L249.8 635.06M172 816.2L249.8 639.29" stroke="#E38900" stroke-width="1.0" fill="none"/>
<path d="M172 784.79L249.8 789.89M172 786.38L249.8 786.78M172 787.97L249.8 788.33M172 789.56L249.8 796.11M172 791.15L249.8 794.56M172 792.74L249.8 799.22M172 794.33L249.8 791.44M172 795.92L249.8 797.67M172 797.51L249.8 793" stroke="#C49A00" stroke-width="1.0" fill="none"/>
<path d="M172 768.99L249.8 777.04M172 770.57L249.8 772.14M172 772.15L249.8 775.4M172 773.73L249.8 778.66M172 775.31L249.8 780.3M172 776.89L249.8 785.18M172 778.47L249.8 781.92M172 780.05L249.8 773.78M172 781.63L249.8 770.52M172 783.21L249.8 783.56" stroke="#99A800" stroke-width="1.0" fill="none"/>
<path d="M172 593.49L249.8 645.7M172 595.07L249.8 642.44M172 596.65L249.8 647.32M172 598.24L249.8 640.81M172 599.82L249.8 644.07M172 601.4L249.8 650.58M172 602.98L249.8 653.83M172 604.56L249.8 648.95M172 606.15L249.8 657.09M172 607.73L249.8 652.2M172 609.31L249.8 655.46" stroke="#53B400" stroke-width="1.0" fill="none"/>
<path d="M172 721.19L249.8 738.78M172 722.78L249.8 741.89M172 724.37L249.8 743.44M172 725.96L249.8 746.56M172 727.55L249.8 745M172 729.14L249.8 740.33M172 730.73L249.8 748.11M172 732.32L249.8 751.22M172 733.91L249.8 749.67" stroke="#00BC56" stroke-width="1.0" fill="none"/>
<path d="M172 688.89L249.8 729.31M172 690.49L249.8 722.99M172 692.08L249.8 727.73M172 693.66L249.8 726.15M172 695.25L249.8 724.57M172 696.85L249.8 737.21M172 698.44L249.8 730.89M172 700.02L249.8 732.47M172 701.62L249.8 734.05M172 703.21L249.8 735.63" stroke="#00C094" stroke-width="1.0" fill="none"/>
<path d="M172 704.82L249.8 709.6M172 706.46L249.8 711.28M172 708.1L249.8 707.92M172 709.74L249.8 706.24M172 711.38L249.8 712.96M172 713.02L249.8 718M172 714.66L249.8 719.68M172 716.3L249.8 716.32M172 717.94L249.8 714.64M172 719.58L249.8 721.36" stroke="#00BFC4" stroke-width="1.0" fill="none"/>
<path d="M172 639.29L249.8 674.56M172 640.87L249.8 672.99M172 642.45L249.8 677.7M172 644.03L249.8 680.84M172 645.61L249.8 676.12M172 647.19L249.8 683.98M172 648.77L249.8 682.4M172 650.35L249.8 679.26M172 651.93L249.8 687.12M172 653.51L249.8 685.54" stroke="#00B6EB" stroke-width="1.0" fill="none"/>
<path d="M172 655.12L249.8 695.77M172 656.76L249.8 692.27M172 658.4L249.8 690.52M172 660.04L249.8 694.02M172 661.68L249.8 701.02M172 663.32L249.8 697.52M172 664.96L249.8 704.52M172 666.6L249.8 688.77M172 668.24L249.8 699.27M172 669.88L249.8 702.77" stroke="#06A4FF" stroke-width="1.0" fill="none"/>
<path d="M172 735.5L249.8 752.88M172 737.1L249.8 758.2M172 738.7L249.8 754.65M172 740.3L249.8 756.42M172 741.9L249.8 763.5M172 743.5L249.8 761.74M172 745.1L249.8 765.28M172 746.7L249.8 759.97M172 748.3L249.8 767.05M172 749.9L249.8 768.82" stroke="#A58AFF" stroke-width="1.0" fill="none"/>
<path d="M172 751.5L249.8 805.41M172 753.09L249.8 803.86M172 754.68L249.8 800.77M172 756.27L249.8 806.95M172 757.86L249.8 802.32M172 759.45L249.8 808.5M172 761.04L249.8 811.59M172 762.63L249.8 813.14M172 764.22L249.8 810.05M172 765.81L249.8 816.23M172 767.4L249.8 814.68" stroke="#DF70F8" stroke-width="1.0" fill="none"/>
<path d="M172 800.63L249.8 613.68M172 801.88L249.8 614.49M172 803.12L249.8 615.31M172 804.36L249.8 616.12M172 805.61L249.8 616.93M172 806.85L249.8 617.75M172 808.09L249.8 618.57M172 809.34L249.8 619.38M172 810.58L249.8 620.19M172 811.82L249.8 621.01M172 813.07L249.8 621.82" stroke="#FB61D7" stroke-width="1.0" fill="none"/>
<path d="M172 671.49L249.8 599.5M172 673.07L249.8 597.94M172 674.65L249.8 596.39M172 676.24L249.8 594.83M172 677.82L249.8 593.28M172 679.4L249.8 608.82M172 680.98L249.8 607.27M172 682.56L249.8 605.71M172 684.15L249.8 604.16M172 685.73L249.8 602.6M172 687.31L249.8 601.05" stroke="#FF66A8" stroke-width="1.0" fill="none"/>
<path d="M257 604.3H257.2Q257.5 604.3 257.5 604.6V618Q257.5 618.3 257.2 618.3H257M257.5 611.6H260.4Q262.6 611.6 262.6 613.8V642.2Q262.6 644.4 260.4 644.4H257M262.6 628H263.76Q265.5 628 265.5 629.74V667Q265.5 669.5 263 669.5H257M265.5 648.8H272.7Q276.7 648.8 276.7 652.8V689.7Q276.7 693.7 272.7 693.7H257.9M257 685.3H257.36Q257.9 685.3 257.9 685.84V701.66Q257.9 702.2 257.36 702.2H257M276.7 671.2H286Q291.5 671.2 291.5 676.7V744.8Q291.5 750.3 286 750.3H264.5M257.4 736.3H262.3Q264.5 736.3 264.5 738.5V762.2Q264.5 764.4 262.3 764.4H257M257 723.4H257.16Q257.4 723.4 257.4 723.64V747.86Q257.4 748.1 257.16 748.1H257M291.5 711H340.1Q355.1 711 355.1 726V785.2Q355.1 800.2 340.1 800.2H260.3M257.4 787.9H258.56Q260.3 787.9 260.3 789.64V809.92Q260.3 811.9 258.32 811.9H257M257 779.5H257.16Q257.4 779.5 257.4 779.74V794.86Q257.4 795.1 257.16 795.1H257" fill="none" stroke="#222" stroke-width="0.9"/>
<path d="M393.9 797.81V784.93Q393.9 779.41 395.86 779.41H399.5M399.5 779.41V752.9Q399.5 745.9 400.87 745.9H403.4M403.4 745.9V712.72Q403.4 705.72 406.38 705.72H411.9M411.9 705.72V670Q411.9 663 414.07 663H418.1M418.1 663V648.38Q418.1 642.12 421 642.12H426.4M426.4 642.12V628.93Q426.4 623.27 429.27 623.27H434.6M434.6 623.27V615.14Q434.6 611.65 440.28 611.65H455M455 611.65V607.65Q455 605.94 456.44 605.94H459.1M459.1 605.94V603.65Q459.1 602.67 461.27 602.67H470.11M470.11 602.67V600.04Q470.11 598.91 472.31 598.91H476.38M476.38 598.91V596.72Q476.38 595.78 478.34 595.78H481.99M481.99 595.78V594.04Q481.99 593.3 483.83 593.3H492M481.99 595.78V598.27H482.49M482.49 598.27V597.29Q482.49 596.88 482.8 596.88H483.37M483.37 596.88V596.04Q483.37 595.68 483.89 595.68H484.84M484.84 595.68V594.89H492M484.84 595.68V596.48H492M483.37 596.88V597.71Q483.37 598.07 484.67 598.07H492M482.49 598.27V599.24Q482.49 599.66 483.87 599.66H492M476.38 598.91V601.11Q476.38 602.05 477.28 602.05H478.96M478.96 602.05V601.25H492M478.96 602.05V602.84H492M470.11 602.67V605.29Q470.11 606.42 471.35 606.42H473.64M473.64 606.42V605.59Q473.64 605.23 474.31 605.23H475.56M475.56 605.23V604.43H492M475.56 605.23V606.02H492M473.64 606.42V607.26Q473.64 607.61 474.94 607.61H492M459.1 605.94V608.22Q459.1 609.2 461.27 609.2H492M455 611.65V615.65Q455 617.36 456.93 617.36H460.5M460.5 617.36V614.67Q460.5 613.52 462.91 613.52H476.08M476.08 613.52V611.6Q476.08 610.77 478.04 610.77H492M476.08 613.52V615.45Q476.08 616.27 477.85 616.27H481.13M481.13 616.27V614.72Q481.13 614.05 482.14 614.05H484.03M484.03 614.05V612.84Q484.03 612.32 485.56 612.32H492M484.03 614.05V615.27Q484.03 615.79 484.38 615.79H485.01M485.01 615.79V614.98Q485.01 614.63 485.63 614.63H486.78M486.78 614.63V613.86H492M486.78 614.63V615.41H492M485.01 615.79V616.6Q485.01 616.95 486.3 616.95H492M481.13 616.27V617.83Q481.13 618.49 482.86 618.49H492M460.5 617.36V620.05Q460.5 621.2 462.91 621.2H475.39M475.39 621.2V620.39Q475.39 620.04 476.68 620.04H492M475.39 621.2V622.01Q475.39 622.36 476.68 622.36H480.68M480.68 622.36V621.58H492M480.68 622.36V623.13H492M434.6 623.27V631.41Q434.6 634.9 440.28 634.9H453.9M453.9 634.9V633.2Q453.9 632.48 455.71 632.48H472.8M472.8 632.48V630.2Q472.8 629.22 474.96 629.22H479.59M479.59 629.22V627.43Q479.59 626.66 480.59 626.66H482.44M482.44 626.66V625.48H483.1M483.1 625.48V624.69H492M483.1 625.48V626.27H492M482.44 626.66V627.49Q482.44 627.84 483.73 627.84H492M479.59 629.22V631.02Q479.59 631.79 480.82 631.79H483.09M483.09 631.79V630.68Q483.09 630.21 483.5 630.21H484.28M484.28 630.21V629.42H492M484.28 630.21V631H492M483.09 631.79V632.89Q483.09 633.37 483.89 633.37H485.38M485.38 633.37V632.58H492M485.38 633.37V634.16H492M472.8 632.48V634.76Q472.8 635.73 474.96 635.73H492M453.9 634.9V636.59Q453.9 637.31 455.71 637.31H492M426.4 642.12V655.31Q426.4 660.96 431.93 660.96H442.2M442.2 660.96V656.84Q442.2 655.08 445.47 655.08H453.99M453.99 655.08V651.54Q453.99 650.03 456.91 650.03H464.94M464.94 650.03V647.76Q464.94 646.78 467.1 646.78H475.19M475.19 646.78V645.13Q475.19 644.42 475.61 644.42H476.39M476.39 644.42V643.06Q476.39 642.47 478.01 642.47H482.2M482.2 642.47V641.02Q482.2 640.4 482.6 640.4H483.35M483.35 640.4V639.43Q483.35 639.02 484.73 639.02H492M483.35 640.4V641.37Q483.35 641.78 483.96 641.78H485.1M485.1 641.78V641.14Q485.1 640.86 486.28 640.86H492M485.1 641.78V642.42Q485.1 642.7 486.28 642.7H492M482.2 642.47V643.92Q482.2 644.54 483.87 644.54H492M476.39 644.42V645.79Q476.39 646.38 478.01 646.38H492M475.19 646.78V648.43Q475.19 649.14 476.32 649.14H478.43M478.43 649.14V648.5Q478.43 648.22 479.62 648.22H492M478.43 649.14V649.78Q478.43 650.06 479.62 650.06H492M464.94 650.03V652.31Q464.94 653.28 465.39 653.28H466.23M466.23 653.28V652.31Q466.23 651.9 467.61 651.9H492M466.23 653.28V654.25Q466.23 654.66 467.61 654.66H472.63M472.63 654.66V654.02Q472.63 653.74 473.82 653.74H492M472.63 654.66V655.3Q472.63 655.58 473.82 655.58H492M453.99 655.08V658.61Q453.99 660.12 456.91 660.12H466.14M466.14 660.12V659.28Q466.14 658.91 467.04 658.91H468.71M468.71 658.91V658.19Q468.71 657.88 469.95 657.88H474.54M474.54 657.88V657.19H492M474.54 657.88V658.57H492M468.71 658.91V659.64Q468.71 659.95 469.95 659.95H492M466.14 660.12V660.97Q466.14 661.33 467.45 661.33H492M442.2 660.96V665.08Q442.2 666.85 445.47 666.85H457.56M457.56 666.85V665.4Q457.56 664.78 459.22 664.78H470.16M470.16 664.78V663.81Q470.16 663.4 471.54 663.4H476.72M476.72 663.4V662.71H492M476.72 663.4V664.09H492M470.16 664.78V665.75Q470.16 666.16 471.54 666.16H475.64M475.64 666.16V665.47H492M475.64 666.16V666.85H492M457.56 666.85V668.3Q457.56 668.92 459.22 668.92H470.94M470.94 668.92V668.23H492M470.94 668.92V669.61H492M418.1 663V677.62Q418.1 683.88 427.67 683.88H462M462 683.88V682.07Q462 681.29 463.89 681.29H472.09M472.09 681.29V679.35Q472.09 678.52 473.78 678.52H476.9M476.9 678.52V675.77Q476.9 674.6 478.37 674.6H481.1M481.1 674.6V672.16Q481.1 671.11 483.36 671.11H492M481.1 674.6V677.04Q481.1 678.09 481.9 678.09H483.4M483.4 678.09V676.74Q483.4 676.17 484.17 676.17H485.61M485.61 676.17V675.17Q485.61 674.75 486.17 674.75H487.21M487.21 674.75V673.9Q487.21 673.54 487.5 673.54H488.06M488.06 673.54V672.73H492M488.06 673.54V674.35H492M487.21 674.75V675.6Q487.21 675.96 488.51 675.96H492M485.61 676.17V677.16Q485.61 677.58 487 677.58H492M483.4 678.09V679.43Q483.4 680.01 483.65 680.01H484.12M484.12 680.01V679.2H492M484.12 680.01V680.82H492M476.9 678.52V681.26Q476.9 682.44 479.34 682.44H492M472.09 681.29V683.22Q472.09 684.05 474.06 684.05H492M462 683.88V685.7Q462 686.48 463.64 686.48H466.69M466.69 686.48V685.67H492M466.69 686.48V687.29H492M411.9 705.72V741.44Q411.9 748.44 414.81 748.44H420.2M420.2 748.44V737.92Q420.2 733.42 421.46 733.42H423.8M423.8 733.42V724.63Q423.8 720.86 427.58 720.86H434.6M434.6 720.86V714.07Q434.6 711.16 435.83 711.16H438.1M438.1 711.16V706.52Q438.1 704.53 441.26 704.53H447.13M447.13 704.53V700.33Q447.13 698.53 450.45 698.53H462.52M462.52 698.53V695.34Q462.52 693.97 464.6 693.97H468.47M468.47 693.97V691.7Q468.47 690.73 470.63 690.73H474.75M474.75 690.73V689.46Q474.75 688.91 476.32 688.91H492M474.75 690.73V692.01Q474.75 692.55 476.27 692.55H479.08M479.08 692.55V691.7Q479.08 691.34 479.67 691.34H480.75M480.75 691.34V690.53H492M480.75 691.34V692.15H492M479.08 692.55V693.41Q479.08 693.77 480.39 693.77H492M468.47 693.97V696.24Q468.47 697.21 470.63 697.21H477.7M477.7 697.21V695.94Q477.7 695.39 479.26 695.39H492M477.7 697.21V698.49Q477.7 699.03 478.81 699.03H480.88M480.88 699.03V698.18Q480.88 697.82 481.5 697.82H482.64M482.64 697.82V697.01H492M482.64 697.82V698.63H492M480.88 699.03V699.89Q480.88 700.25 482.19 700.25H492M462.52 698.53V701.72Q462.52 703.08 465.23 703.08H471.55M471.55 703.08V702.23Q471.55 701.87 472.86 701.87H492M471.55 703.08V703.93Q471.55 704.3 471.96 704.3H472.73M472.73 704.3V703.49H492M472.73 704.3V705.1H492M447.13 704.53V708.74Q447.13 710.54 450.45 710.54H462.33M462.33 710.54V709.27Q462.33 708.73 463.89 708.73H473.83M473.83 708.73V707.88Q473.83 707.52 475.14 707.52H480.79M480.79 707.52V706.71H492M480.79 707.52V708.32H492M473.83 708.73V709.57Q473.83 709.93 475.14 709.93H492M462.33 710.54V711.81Q462.33 712.35 463.26 712.35H464.99M464.99 712.35V711.54H492M464.99 712.35V713.15H492M438.1 711.16V715.8Q438.1 717.78 440.08 717.78H443.75M443.75 717.78V716.52Q443.75 715.97 445.31 715.97H456.81M456.81 715.97V715.13Q456.81 714.76 458.12 714.76H492M456.81 715.97V716.82Q456.81 717.18 458.12 717.18H470.93M470.93 717.18V716.38H492M470.93 717.18V717.99H492M443.75 717.78V719.05Q443.75 719.6 445.31 719.6H492M434.6 720.86V727.64Q434.6 730.55 437.05 730.55H441.6M441.6 730.55V728.76Q441.6 728 443.25 728H446.3M446.3 728V726.64Q446.3 726.06 447.92 726.06H452.21M452.21 726.06V725.02Q452.21 724.57 453.63 724.57H468.84M468.84 724.57V723.6Q468.84 723.18 470.22 723.18H475.54M475.54 723.18V722.35Q475.54 721.99 475.95 721.99H476.71M476.71 721.99V721.19H492M476.71 721.99V722.78H492M475.54 723.18V724.01Q475.54 724.37 476.84 724.37H492M468.84 724.57V725.54Q468.84 725.96 470.22 725.96H492M452.21 726.06V727.1Q452.21 727.55 453.63 727.55H492M446.3 728V729.35Q446.3 729.93 447.92 729.93H457.45M457.45 729.93V729.14H492M457.45 729.93V730.73H492M441.6 730.55V732.34Q441.6 733.11 443.47 733.11H455.11M455.11 733.11V732.32H492M455.11 733.11V733.91H492M423.8 733.42V742.21Q423.8 745.98 429.88 745.98H444.8M444.8 745.98V743.61Q444.8 742.6 447.02 742.6H452.46M452.46 742.6V740.99Q452.46 740.3 454.22 740.3H465.12M465.12 740.3V739.09Q465.12 738.57 465.81 738.57H467.09M467.09 738.57V737.29Q467.09 736.74 468.66 736.74H475.83M475.83 736.74V735.88Q475.83 735.52 477.15 735.52H492M475.83 736.74V737.59Q475.83 737.96 477.15 737.96H480.78M480.78 737.96V737.14H492M480.78 737.96V738.78H492M467.09 738.57V739.85Q467.09 740.4 468.66 740.4H492M465.12 740.3V741.52Q465.12 742.04 466.65 742.04H492M452.46 742.6V744.2Q452.46 744.89 454.22 744.89H466.48M466.48 744.89V744.03Q466.48 743.66 467.8 743.66H492M466.48 744.89V745.74Q466.48 746.11 467.8 746.11H475.7M475.7 746.11V745.3H492M475.7 746.11V746.92H492M444.8 745.98V748.35Q444.8 749.37 447.02 749.37H456.8M456.8 749.37V748.56H492M456.8 749.37V750.18H492M420.2 748.44V758.95Q420.2 763.45 426.81 763.45H439.1M439.1 763.45V761.23Q439.1 760.27 441.24 760.27H458.43M458.43 760.27V757.46Q458.43 756.25 459.03 756.25H460.15M460.15 756.25V753.67Q460.15 752.56 462.5 752.56H470.4M470.4 752.56V751.78H492M470.4 752.56V753.35H492M460.15 756.25V758.84Q460.15 759.94 462.5 759.94H472.8M472.8 759.94V757.99Q472.8 757.16 473.78 757.16H475.61M475.61 757.16V755.58Q475.61 754.91 477.36 754.91H492M475.61 757.16V758.73Q475.61 759.4 476.35 759.4H477.73M477.73 759.4V758.17Q477.73 757.65 478.47 757.65H479.86M479.86 757.65V756.82Q479.86 756.47 481.15 756.47H492M479.86 757.65V758.47Q479.86 758.82 480.76 758.82H482.44M482.44 758.82V758.04H492M482.44 758.82V759.6H492M477.73 759.4V760.64Q477.73 761.16 479.27 761.16H492M472.8 759.94V761.89Q472.8 762.73 474.77 762.73H492M458.43 760.27V763.09Q458.43 764.29 460.92 764.29H492M439.1 763.45V765.68Q439.1 766.64 441.24 766.64H452.94M452.94 766.64V765.85H492M452.94 766.64V767.42H492M403.4 745.9V779.08Q403.4 786.08 414 786.08H448.7M448.7 786.08V779.76Q448.7 777.06 449.86 777.06H452M452 777.06V774.63Q452 773.59 453.15 773.59H455.3M455.3 773.59V771.97Q455.3 771.28 456.41 771.28H458.48M458.48 771.28V770.2Q458.48 769.74 459.93 769.74H467.75M467.75 769.74V768.97H492M467.75 769.74V770.51H492M458.48 771.28V772.36Q458.48 772.82 459.93 772.82H470.97M470.97 772.82V772.05H492M470.97 772.82V773.59H492M455.3 773.59V775.21Q455.3 775.9 457.07 775.9H466.97M466.97 775.9V775.13H492M466.97 775.9V776.67H492M452 777.06V779.48Q452 780.52 454.26 780.52H468.59M468.59 780.52V779.44Q468.59 778.98 469.22 778.98H470.38M470.38 778.98V778.21H492M470.38 778.98V779.75H492M468.59 780.52V781.6Q468.59 782.06 470.04 782.06H473.61M473.61 782.06V781.29H492M473.61 782.06V782.83H492M448.7 786.08V792.4Q448.7 795.11 450.9 795.11H455M455 795.11V793.45Q455 792.74 456.8 792.74H466.19M466.19 792.74V790.56Q466.19 789.62 467.64 789.62H470.34M470.34 789.62V787.41Q470.34 786.46 472.47 786.46H477.2M477.2 786.46V785.6Q477.2 785.23 478.36 785.23H480.53M480.53 785.23V784.42H492M480.53 785.23V786.05H492M477.2 786.46V787.32Q477.2 787.68 478.51 787.68H492M470.34 789.62V791.84Q470.34 792.79 472.37 792.79H476.15M476.15 792.79V791.79Q476.15 791.36 477.55 791.36H480.49M480.49 791.36V790.5Q480.49 790.13 480.93 790.13H481.75M481.75 790.13V789.32H492M481.75 790.13V790.95H492M480.49 791.36V792.22Q480.49 792.58 481.8 792.58H492M476.15 792.79V793.79Q476.15 794.22 477.55 794.22H492M466.19 792.74V794.92Q466.19 795.85 468.3 795.85H492M455 795.11V796.77Q455 797.48 456.8 797.48H492M399.5 779.41V805.92Q399.5 812.92 407.2 812.92H421.5M421.5 812.92V811.73Q421.5 811.22 423.02 811.22H430.46M430.46 811.22V809.92Q430.46 809.36 432.04 809.36H440.38M440.38 809.36V807.86Q440.38 807.21 442.08 807.21H449.48M449.48 807.21V805.84Q449.48 805.25 451.1 805.25H458.37M458.37 805.25V804.12Q458.37 803.64 459.84 803.64H465.53M465.53 803.64V802.49Q465.53 801.99 467.03 801.99H471.52M471.52 801.99V800.77Q471.52 800.24 473.06 800.24H480.69M480.69 800.24V799.43Q480.69 799.08 481.98 799.08H492M480.69 800.24V801.06Q480.69 801.41 481.98 801.41H486.09M486.09 801.41V800.63H492M486.09 801.41V802.19H492M471.52 801.99V803.22Q471.52 803.74 473.06 803.74H492M465.53 803.64V804.8Q465.53 805.3 467.03 805.3H492M458.37 805.25V806.37Q458.37 806.85 459.84 806.85H492M449.48 807.21V808.59Q449.48 809.18 451.1 809.18H464.37M464.37 809.18V808.4H492M464.37 809.18V809.96H492M440.38 809.36V810.87Q440.38 811.51 442.08 811.51H492M430.46 811.22V812.51Q430.46 813.07 432.04 813.07H492M421.5 812.92V814.11Q421.5 814.62 423.02 814.62H492M393.9 797.81V810.68Q393.9 816.2 402.43 816.2H492" fill="none" stroke="#000" stroke-width="0.95"/>
<rect x="492" y="592.5" width="4" height="18.4" rx="2" fill="#53B400"/>
<rect x="492" y="609.1" width="4" height="15.7" rx="2" fill="#E38900"/>
<rect x="492" y="623" width="4" height="16" rx="2" fill="#F8766D"/>
<rect x="492" y="637.2" width="4" height="20.2" rx="2" fill="#06A4FF"/>
<rect x="492" y="655.6" width="4" height="15.6" rx="2" fill="#00B6EB"/>
<rect x="492" y="669.4" width="4" height="19.6" rx="2" fill="#FF66A8"/>
<rect x="492" y="687.2" width="4" height="18" rx="2" fill="#00BFC4"/>
<rect x="492" y="703.4" width="4" height="17.9" rx="2" fill="#00C094"/>
<rect x="492" y="719.5" width="4" height="16.1" rx="2" fill="#00BC56"/>
<rect x="492" y="733.8" width="4" height="18.1" rx="2" fill="#A58AFF"/>
<rect x="492" y="750.1" width="4" height="19" rx="2" fill="#DF70F8"/>
<rect x="492" y="767.3" width="4" height="17.2" rx="2" fill="#99A800"/>
<rect x="492" y="782.7" width="4" height="16.5" rx="2" fill="#C49A00"/>
<rect x="492" y="797.4" width="4" height="18.9" rx="2" fill="#FB61D7"/>
<rect x="492" y="814.5" width="4" height="2.5" rx="2" fill="#E38900"/>
<rect x="578.3" y="592.5" width="4.1" height="18" rx="2.05" fill="#FF66A8"/>
<rect x="578.3" y="608.7" width="4.1" height="18.1" rx="2.05" fill="#FB61D7"/>
<rect x="578.3" y="625" width="4.1" height="15.9" rx="2.05" fill="#E38900"/>
<rect x="578.3" y="639.1" width="4.1" height="19.7" rx="2.05" fill="#53B400"/>
<rect x="578.3" y="657" width="4.1" height="16.1" rx="2.05" fill="#F8766D"/>
<rect x="578.3" y="671.3" width="4.1" height="17.5" rx="2.05" fill="#00B6EB"/>
<rect x="578.3" y="687" width="4.1" height="19.3" rx="2.05" fill="#06A4FF"/>
<rect x="578.3" y="704.5" width="4.1" height="18.6" rx="2.05" fill="#00BFC4"/>
<rect x="578.3" y="721.3" width="4.1" height="17.6" rx="2.05" fill="#00C094"/>
<rect x="578.3" y="737.1" width="4.1" height="15.8" rx="2.05" fill="#00BC56"/>
<rect x="578.3" y="751.1" width="4.1" height="19.5" rx="2.05" fill="#A58AFF"/>
<rect x="578.3" y="768.8" width="4.1" height="18.1" rx="2.05" fill="#99A800"/>
<rect x="578.3" y="785.1" width="4.1" height="15.8" rx="2.05" fill="#C49A00"/>
<rect x="578.3" y="799.1" width="4.1" height="17.9" rx="2.05" fill="#DF70F8"/>
<path d="M499 624.69L575.3 658.69M499 626.27L575.3 663.46M499 627.84L575.3 661.87M499 629.42L575.3 665.05M499 631L575.3 666.64M499 632.58L575.3 660.28M499 634.16L575.3 671.41M499 635.73L575.3 668.23M499 637.31L575.3 669.82" stroke="#F8766D" stroke-width="1.0" fill="none"/>
<path d="M499 610.77L575.3 626.61M499 612.32L575.3 632.25M499 613.86L575.3 628.01M499 615.41L575.3 633.65M499 616.95L575.3 630.84M499 618.49L575.3 636.48M499 620.04L575.3 629.42M499 621.58L575.3 635.06M499 623.13L575.3 637.88M499 816.2L575.3 639.29" stroke="#E38900" stroke-width="1.0" fill="none"/>
<path d="M499 784.42L575.3 793M499 786.05L575.3 786.78M499 787.68L575.3 794.56M499 789.32L575.3 796.11M499 790.95L575.3 788.33M499 792.58L575.3 799.22M499 794.22L575.3 797.67M499 795.85L575.3 789.89M499 797.48L575.3 791.44" stroke="#C49A00" stroke-width="1.0" fill="none"/>
<path d="M499 768.97L575.3 773.78M499 770.51L575.3 777.04M499 772.05L575.3 772.14M499 773.59L575.3 780.3M499 775.13L575.3 770.52M499 776.67L575.3 785.18M499 778.21L575.3 778.66M499 779.75L575.3 781.92M499 781.29L575.3 783.56M499 782.83L575.3 775.4" stroke="#99A800" stroke-width="1.0" fill="none"/>
<path d="M499 593.3L575.3 644.07M499 594.89L575.3 645.7M499 596.48L575.3 642.44M499 598.07L575.3 650.58M499 599.66L575.3 647.32M499 601.25L575.3 655.46M499 602.84L575.3 653.83M499 604.43L575.3 657.09M499 606.02L575.3 640.81M499 607.61L575.3 648.95M499 609.2L575.3 652.2" stroke="#53B400" stroke-width="1.0" fill="none"/>
<path d="M499 721.19L575.3 740.33M499 722.78L575.3 741.89M499 724.37L575.3 738.78M499 725.96L575.3 746.56M499 727.55L575.3 748.11M499 729.14L575.3 743.44M499 730.73L575.3 749.67M499 732.32L575.3 751.22M499 733.91L575.3 745" stroke="#00BC56" stroke-width="1.0" fill="none"/>
<path d="M499 705.1L575.3 727.73M499 706.71L575.3 730.89M499 708.32L575.3 729.31M499 709.93L575.3 734.05M499 711.54L575.3 726.15M499 713.15L575.3 724.57M499 714.76L575.3 732.47M499 716.38L575.3 722.99M499 717.99L575.3 737.21M499 719.6L575.3 735.63" stroke="#00C094" stroke-width="1.0" fill="none"/>
<path d="M499 688.91L575.3 707.92M499 690.53L575.3 706.24M499 692.15L575.3 709.6M499 693.77L575.3 711.28M499 695.39L575.3 716.32M499 697.01L575.3 712.96M499 698.63L575.3 718M499 700.25L575.3 719.68M499 701.87L575.3 721.36M499 703.49L575.3 714.64" stroke="#00BFC4" stroke-width="1.0" fill="none"/>
<path d="M499 657.19L575.3 676.12M499 658.57L575.3 672.99M499 659.95L575.3 674.56M499 661.33L575.3 680.84M499 662.71L575.3 677.7M499 664.09L575.3 683.98M499 665.47L575.3 679.26M499 666.85L575.3 685.54M499 668.23L575.3 687.12M499 669.61L575.3 682.4" stroke="#00B6EB" stroke-width="1.0" fill="none"/>
<path d="M499 639.02L575.3 690.52M499 640.86L575.3 692.27M499 642.7L575.3 695.77M499 644.54L575.3 697.52M499 646.38L575.3 702.77M499 648.22L575.3 688.77M499 650.06L575.3 699.27M499 651.9L575.3 704.52M499 653.74L575.3 694.02M499 655.58L575.3 701.02" stroke="#06A4FF" stroke-width="1.0" fill="none"/>
<path d="M499 735.52L575.3 756.42M499 737.14L575.3 752.88M499 738.78L575.3 754.65M499 740.4L575.3 759.97M499 742.04L575.3 758.2M499 743.66L575.3 765.28M499 745.3L575.3 763.5M499 746.92L575.3 761.74M499 748.56L575.3 768.82M499 750.18L575.3 767.05" stroke="#A58AFF" stroke-width="1.0" fill="none"/>
<path d="M499 751.78L575.3 802.32M499 753.35L575.3 803.86M499 754.91L575.3 808.5M499 756.47L575.3 805.41M499 758.04L575.3 811.59M499 759.6L575.3 813.14M499 761.16L575.3 800.77M499 762.73L575.3 806.95M499 764.29L575.3 814.68M499 765.85L575.3 810.05M499 767.42L575.3 816.23" stroke="#DF70F8" stroke-width="1.0" fill="none"/>
<path d="M499 800.63L575.3 613.68M499 801.88L575.3 614.49M499 803.12L575.3 615.31M499 804.36L575.3 616.12M499 805.61L575.3 616.93M499 806.85L575.3 617.75M499 808.09L575.3 618.57M499 809.34L575.3 619.38M499 810.58L575.3 620.19M499 811.82L575.3 621.01M499 813.07L575.3 621.82" stroke="#FB61D7" stroke-width="1.0" fill="none"/>
<path d="M499 671.11L575.3 599.5M499 672.73L575.3 597.94M499 674.35L575.3 596.39M499 675.96L575.3 594.83M499 677.58L575.3 593.28M499 679.2L575.3 608.82M499 680.82L575.3 607.27M499 682.44L575.3 605.71M499 684.05L575.3 604.16M499 685.67L575.3 602.6M499 687.29L575.3 601.05" stroke="#FF66A8" stroke-width="1.0" fill="none"/>
<path d="M582.5 604.3H582.7Q583 604.3 583 604.6V618Q583 618.3 582.7 618.3H582.5M583 611.6H585.9Q588.1 611.6 588.1 613.8V642.2Q588.1 644.4 585.9 644.4H582.5M588.1 628H589.26Q591 628 591 629.74V667Q591 669.5 588.5 669.5H582.5M591 648.8H598.2Q602.2 648.8 602.2 652.8V689.7Q602.2 693.7 598.2 693.7H583.4M582.5 685.3H582.86Q583.4 685.3 583.4 685.84V701.66Q583.4 702.2 582.86 702.2H582.5M602.2 671.2H611.5Q617 671.2 617 676.7V744.8Q617 750.3 611.5 750.3H590M582.9 736.3H587.8Q590 736.3 590 738.5V762.2Q590 764.4 587.8 764.4H582.5M582.5 723.4H582.66Q582.9 723.4 582.9 723.64V747.86Q582.9 748.1 582.66 748.1H582.5M617 711H665.6Q680.6 711 680.6 726V785.2Q680.6 800.2 665.6 800.2H585.8M582.9 787.9H584.06Q585.8 787.9 585.8 789.64V809.92Q585.8 811.9 583.82 811.9H582.5M582.5 779.5H582.66Q582.9 779.5 582.9 779.74V794.86Q582.9 795.1 582.66 795.1H582.5" fill="none" stroke="#222" stroke-width="0.9"/>
<line x1="55.7" y1="817.2" x2="165" y2="817.2" stroke="#333" stroke-width="0.8"/>
<line x1="68.3" y1="817.2" x2="68.3" y2="820.3" stroke="#333" stroke-width="0.8"/>
<text x="68.3" y="830.2" font-size="7.8" text-anchor="middle" fill="#3a3a3a">0</text>
<line x1="105.05" y1="817.2" x2="105.05" y2="820.3" stroke="#333" stroke-width="0.8"/>
<text x="105.05" y="830.2" font-size="7.8" text-anchor="middle" fill="#3a3a3a">0.05</text>
<line x1="141.8" y1="817.2" x2="141.8" y2="820.3" stroke="#333" stroke-width="0.8"/>
<text x="141.8" y="830.2" font-size="7.8" text-anchor="middle" fill="#3a3a3a">0.10</text>
<text x="109.2" y="845.1" font-size="8.8" text-anchor="middle" fill="#222222">Synteny distance</text>
<line x1="255.2" y1="817.4" x2="364.7" y2="817.4" stroke="#333" stroke-width="0.8"/>
<line x1="281.2" y1="817.4" x2="281.2" y2="820.0" stroke="#333" stroke-width="0.8"/>
<text x="281.2" y="830.7" font-size="7.8" text-anchor="middle" fill="#3a3a3a">75</text>
<line x1="307.47" y1="817.4" x2="307.47" y2="820.0" stroke="#333" stroke-width="0.8"/>
<text x="307.47" y="830.7" font-size="7.8" text-anchor="middle" fill="#3a3a3a">50</text>
<line x1="333.74" y1="817.4" x2="333.74" y2="820.0" stroke="#333" stroke-width="0.8"/>
<text x="333.74" y="830.7" font-size="7.8" text-anchor="middle" fill="#3a3a3a">25</text>
<line x1="360.01" y1="817.4" x2="360.01" y2="820.0" stroke="#333" stroke-width="0.8"/>
<text x="360.01" y="830.7" font-size="7.8" text-anchor="middle" fill="#3a3a3a">0</text>
<text x="310.2" y="845.1" font-size="8.8" text-anchor="middle" fill="#222222">Mash–based distance</text>
<line x1="388.9" y1="817.2" x2="492.2" y2="817.2" stroke="#333" stroke-width="0.8"/>
<line x1="393.8" y1="817.2" x2="393.8" y2="820.3" stroke="#333" stroke-width="0.8"/>
<text x="393.8" y="830.2" font-size="7.8" text-anchor="middle" fill="#3a3a3a">0</text>
<line x1="430.15" y1="817.2" x2="430.15" y2="820.3" stroke="#333" stroke-width="0.8"/>
<text x="430.15" y="830.2" font-size="7.8" text-anchor="middle" fill="#3a3a3a">0.05</text>
<line x1="466.5" y1="817.2" x2="466.5" y2="820.3" stroke="#333" stroke-width="0.8"/>
<text x="466.5" y="830.2" font-size="7.8" text-anchor="middle" fill="#3a3a3a">0.10</text>
<text x="442.8" y="845.1" font-size="8.8" text-anchor="middle" fill="#222222">Synteny distance</text>
<line x1="582" y1="817.4" x2="685" y2="817.4" stroke="#333" stroke-width="0.8"/>
<line x1="601.3" y1="817.4" x2="601.3" y2="820.0" stroke="#333" stroke-width="0.8"/>
<text x="601.3" y="830.7" font-size="7.8" text-anchor="middle" fill="#3a3a3a">75</text>
<line x1="627.57" y1="817.4" x2="627.57" y2="820.0" stroke="#333" stroke-width="0.8"/>
<text x="627.57" y="830.7" font-size="7.8" text-anchor="middle" fill="#3a3a3a">50</text>
<line x1="653.84" y1="817.4" x2="653.84" y2="820.0" stroke="#333" stroke-width="0.8"/>
<text x="653.84" y="830.7" font-size="7.8" text-anchor="middle" fill="#3a3a3a">25</text>
<line x1="680.11" y1="817.4" x2="680.11" y2="820.0" stroke="#333" stroke-width="0.8"/>
<text x="680.11" y="830.7" font-size="7.8" text-anchor="middle" fill="#3a3a3a">0</text>
<text x="630.2" y="845.1" font-size="8.8" text-anchor="middle" fill="#222222">Mash–based distance</text>
<text x="212.2" y="580.6" font-size="8.5" text-anchor="middle" fill="#222222">RFD = 0.29</text>
<text x="212.0" y="590.2" font-size="8.5" text-anchor="middle" fill="#222222"><tspan font-style="italic">P</tspan> &lt; 1 × 10<tspan dy="-3" font-size="5.2">−5</tspan></text>
<text x="539.0" y="581.4" font-size="8.5" text-anchor="middle" fill="#222222" font-style="italic">RFD = 0.33</text>
<text x="539.0" y="591.5" font-size="8.5" text-anchor="middle" fill="#222222"><tspan font-style="italic">P</tspan> &lt; 1 × 10<tspan dy="-3" font-size="5.2">−5</tspan></text>
<text x="78.1" y="593.2" font-size="8.8" text-anchor="start" fill="#222222">200 regions</text>
<text x="406.4" y="594.9" font-size="8.8" text-anchor="start" fill="#222222">40 regions</text>
<text x="1.5" y="596" font-size="8.8" text-anchor="start" fill="#222222">Group</text>
<circle cx="9.6" cy="610.9" r="2.5" fill="#F8766D"/>
<text x="17.3" y="614" font-size="8.8" text-anchor="start" fill="#222222">A</text>
<circle cx="9.6" cy="627.83" r="2.5" fill="#E38900"/>
<text x="17.3" y="630.93" font-size="8.8" text-anchor="start" fill="#222222">B1</text>
<circle cx="9.6" cy="644.76" r="2.5" fill="#C49A00"/>
<text x="17.3" y="647.86" font-size="8.8" text-anchor="start" fill="#222222">B2–1</text>
<circle cx="9.6" cy="661.69" r="2.5" fill="#99A800"/>
<text x="17.3" y="664.79" font-size="8.8" text-anchor="start" fill="#222222">B2–2</text>
<circle cx="9.6" cy="678.62" r="2.5" fill="#53B400"/>
<text x="17.3" y="681.72" font-size="8.8" text-anchor="start" fill="#222222">C</text>
<circle cx="9.6" cy="695.55" r="2.5" fill="#00BC56"/>
<text x="17.3" y="698.65" font-size="8.8" text-anchor="start" fill="#222222">D1</text>
<circle cx="9.6" cy="712.48" r="2.5" fill="#00C094"/>
<text x="17.3" y="715.58" font-size="8.8" text-anchor="start" fill="#222222">D2</text>
<circle cx="9.6" cy="729.41" r="2.5" fill="#00BFC4"/>
<text x="17.3" y="732.51" font-size="8.8" text-anchor="start" fill="#222222">D3</text>
<circle cx="9.6" cy="746.34" r="2.5" fill="#00B6EB"/>
<text x="17.3" y="749.44" font-size="8.8" text-anchor="start" fill="#222222">E1</text>
<circle cx="9.6" cy="763.27" r="2.5" fill="#06A4FF"/>
<text x="17.3" y="766.37" font-size="8.8" text-anchor="start" fill="#222222">E2</text>
<circle cx="9.6" cy="780.2" r="2.5" fill="#A58AFF"/>
<text x="17.3" y="783.3" font-size="8.8" text-anchor="start" fill="#222222">F</text>
<circle cx="9.6" cy="797.13" r="2.5" fill="#DF70F8"/>
<text x="17.3" y="800.23" font-size="8.8" text-anchor="start" fill="#222222">G</text>
<circle cx="9.6" cy="814.06" r="2.5" fill="#FB61D7"/>
<text x="17.3" y="817.16" font-size="8.8" text-anchor="start" fill="#222222">Shig1</text>
<circle cx="9.6" cy="830.99" r="2.5" fill="#FF66A8"/>
<text x="17.3" y="834.09" font-size="8.8" text-anchor="start" fill="#222222">Shig2</text>
<text x="-0.2" y="579.4" font-size="15.5" text-anchor="start" fill="#000" font-weight="bold">c</text>
<text x="384.6" y="579" font-size="15.5" text-anchor="start" fill="#000" font-weight="bold">d</text>
<text x="-0.2" y="876.6" font-size="15.5" text-anchor="start" fill="#000" font-weight="bold">e</text>
<text x="38.8" y="884.4" font-size="7.8" text-anchor="middle" fill="#222222">APSS</text>
<defs><linearGradient id="apss" x1="0" x2="1" y1="0" y2="0"><stop offset="0" stop-color="#0000ff"/><stop offset="0.48" stop-color="#000000"/><stop offset="1" stop-color="#ff0000"/></linearGradient></defs>
<rect x="11.4" y="889.5" width="55.5" height="8.9" fill="url(#apss)" stroke="#444" stroke-width="0.5"/>
<line x1="11.6" y1="898.4" x2="11.6" y2="901.8" stroke="#555" stroke-width="0.6"/>
<line x1="66.7" y1="898.4" x2="66.7" y2="901.8" stroke="#555" stroke-width="0.6"/>
<text x="11.5" y="912.1" font-size="7.8" text-anchor="middle" fill="#3a3a3a">0.82</text>
<text x="66.6" y="912.1" font-size="7.8" text-anchor="middle" fill="#3a3a3a">1</text>
<rect x="78.1" y="895.6" width="29.9" height="29.8" fill="#0000f3"/>
<rect x="107.5" y="895.6" width="30" height="29.8" fill="#ff0000"/>
<rect x="137" y="895.6" width="29.9" height="29.8" fill="#e60000"/>
<rect x="166.4" y="895.6" width="29.9" height="29.8" fill="#bc0000"/>
<rect x="78.1" y="924.9" width="29.9" height="29.8" fill="#0000d6"/>
<rect x="107.5" y="924.9" width="30" height="29.8" fill="#b50000"/>
<rect x="137" y="924.9" width="29.9" height="29.8" fill="#a40000"/>
<rect x="195.8" y="924.9" width="30.2" height="29.8" fill="#bc0000"/>
<rect x="78.1" y="954.2" width="29.9" height="29.9" fill="#0000ff"/>
<rect x="107.5" y="954.2" width="30" height="29.9" fill="#ff0000"/>
<rect x="166.4" y="954.2" width="29.9" height="29.9" fill="#a40000"/>
<rect x="195.8" y="954.2" width="30.2" height="29.9" fill="#e60000"/>
<rect x="78.1" y="983.6" width="29.9" height="29.9" fill="#000062"/>
<rect x="137" y="983.6" width="29.9" height="29.9" fill="#ff0000"/>
<rect x="166.4" y="983.6" width="29.9" height="29.9" fill="#b00000"/>
<rect x="195.8" y="983.6" width="30.2" height="29.9" fill="#fb0000"/>
<rect x="107.5" y="1013" width="30" height="30.1" fill="#000062"/>
<rect x="137" y="1013" width="29.9" height="30.1" fill="#0000ff"/>
<rect x="166.4" y="1013" width="29.9" height="30.1" fill="#0000de"/>
<rect x="195.8" y="1013" width="30.2" height="30.1" fill="#0000f3"/>
<text x="229.5" y="913.25" font-size="8.3" text-anchor="start" fill="#222222">C–27</text>
<text x="229.5" y="942.55" font-size="8.3" text-anchor="start" fill="#222222">AFC27</text>
<text x="229.5" y="971.9" font-size="8.3" text-anchor="start" fill="#222222">ATCC19707</text>
<text x="229.5" y="1001.3" font-size="8.3" text-anchor="start" fill="#222222">NS58</text>
<text x="229.5" y="1030.8" font-size="8.3" text-anchor="start" fill="#222222">AFC132</text>
<text x="95.8" y="1047.6" font-size="8.3" text-anchor="end" fill="#222222" transform="rotate(-90 95.8 1047.6)">AFC132</text>
<text x="125.25" y="1047.6" font-size="8.3" text-anchor="end" fill="#222222" transform="rotate(-90 125.25 1047.6)">NS58</text>
<text x="154.7" y="1047.6" font-size="8.3" text-anchor="end" fill="#222222" transform="rotate(-90 154.7 1047.6)">ATCC19707</text>
<text x="184.1" y="1047.6" font-size="8.3" text-anchor="end" fill="#222222" transform="rotate(-90 184.1 1047.6)">AFC27</text>
<text x="213.65" y="1047.6" font-size="8.3" text-anchor="end" fill="#222222" transform="rotate(-90 213.65 1047.6)">C–27</text>
<path d="M92.8 893.6V873.2H148.3V893.6M122.3 893.6H210.8" fill="none" stroke="#8c8c8c" stroke-width="0.8"/>
<path d="M75.6 910.2V998.1M75.6 972.6H55.3V1028.0H75.6" fill="none" stroke="#8c8c8c" stroke-width="0.8"/>
</svg>
</body></html>
